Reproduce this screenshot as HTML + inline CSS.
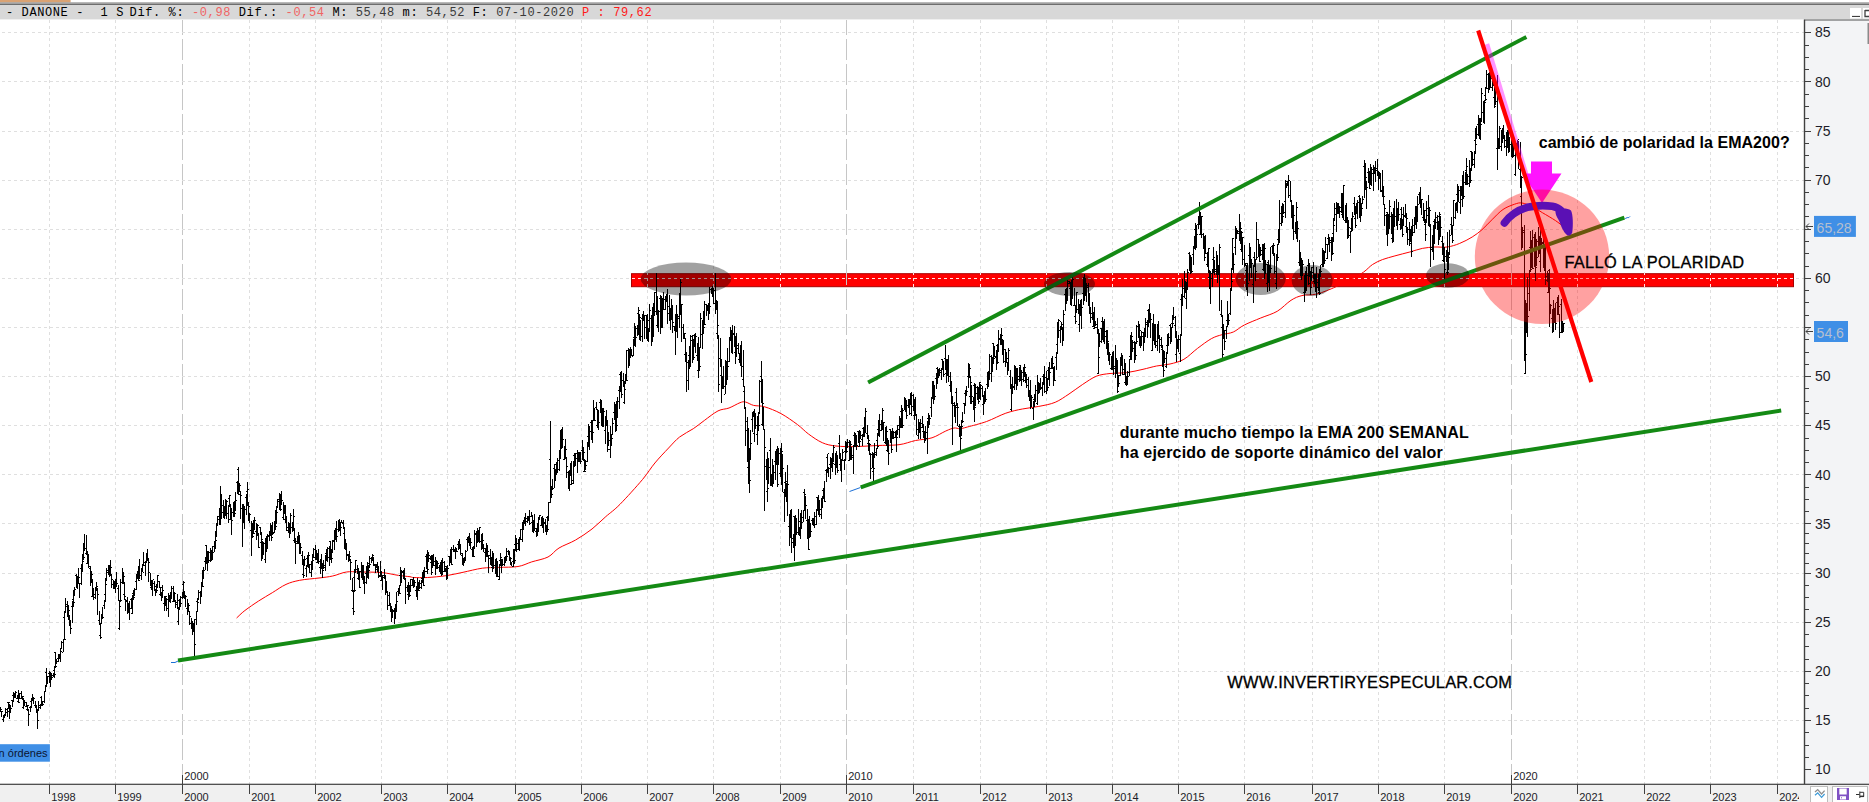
<!DOCTYPE html>
<html lang="es"><head><meta charset="utf-8"><title>DANONE</title>
<style>
html,body{margin:0;padding:0;background:#fff;}
body{width:1869px;height:802px;overflow:hidden;position:relative;font-family:"Liberation Sans",sans-serif;}
svg{position:absolute;left:0;top:0;display:block}
.sans{font-family:"Liberation Sans",sans-serif}
.mono{font-family:"Liberation Mono",monospace}
</style></head><body>
<svg width="1869" height="802" viewBox="0 0 1869 802">
<defs>
<clipPath id="chart"><rect x="0" y="19.3" width="1804" height="764.7"/></clipPath>
<clipPath id="rb"><rect x="631" y="273.2" width="1163" height="13.7"/></clipPath>
<clipPath id="c24"><rect x="1770" y="785" width="29" height="17"/></clipPath>
<linearGradient id="tg" x1="0" y1="0" x2="0" y2="1"><stop offset="0" stop-color="#b8b8b8"/><stop offset="1" stop-color="#707070"/></linearGradient>
</defs>
<rect width="1869" height="802" fill="#fff"/>
<!-- chart -->
<g clip-path="url(#chart)">
<rect x="631.5" y="273.7" width="1162" height="13" fill="#ff0000" stroke="#a80000" stroke-width="1"/>
<g stroke="#dfdfdf" stroke-width="1" shape-rendering="crispEdges">
<line x1="49.5" y1="20" x2="49.5" y2="784" stroke-dasharray="3 3"/>
<line x1="115.5" y1="20" x2="115.5" y2="784" stroke-dasharray="3 3"/>
<line x1="182.5" y1="20" x2="182.5" y2="775" stroke="#c6c6c6" stroke-dasharray="21 4" stroke-dashoffset="6"/>
<line x1="249.5" y1="20" x2="249.5" y2="784" stroke-dasharray="3 3"/>
<line x1="315.5" y1="20" x2="315.5" y2="784" stroke-dasharray="3 3"/>
<line x1="381.5" y1="20" x2="381.5" y2="784" stroke-dasharray="3 3"/>
<line x1="447.5" y1="20" x2="447.5" y2="784" stroke-dasharray="3 3"/>
<line x1="515.5" y1="20" x2="515.5" y2="784" stroke-dasharray="3 3"/>
<line x1="581.5" y1="20" x2="581.5" y2="784" stroke-dasharray="3 3"/>
<line x1="647.5" y1="20" x2="647.5" y2="784" stroke-dasharray="3 3"/>
<line x1="713.5" y1="20" x2="713.5" y2="784" stroke-dasharray="3 3"/>
<line x1="780.5" y1="20" x2="780.5" y2="784" stroke-dasharray="3 3"/>
<line x1="846.5" y1="20" x2="846.5" y2="775" stroke="#c6c6c6" stroke-dasharray="21 4" stroke-dashoffset="6"/>
<line x1="913.5" y1="20" x2="913.5" y2="784" stroke-dasharray="3 3"/>
<line x1="980.5" y1="20" x2="980.5" y2="784" stroke-dasharray="3 3"/>
<line x1="1046.5" y1="20" x2="1046.5" y2="784" stroke-dasharray="3 3"/>
<line x1="1112.5" y1="20" x2="1112.5" y2="784" stroke-dasharray="3 3"/>
<line x1="1178.5" y1="20" x2="1178.5" y2="784" stroke-dasharray="3 3"/>
<line x1="1244.5" y1="20" x2="1244.5" y2="784" stroke-dasharray="3 3"/>
<line x1="1312.5" y1="20" x2="1312.5" y2="784" stroke-dasharray="3 3"/>
<line x1="1378.5" y1="20" x2="1378.5" y2="784" stroke-dasharray="3 3"/>
<line x1="1444.5" y1="20" x2="1444.5" y2="784" stroke-dasharray="3 3"/>
<line x1="1511.5" y1="20" x2="1511.5" y2="775" stroke="#c6c6c6" stroke-dasharray="21 4" stroke-dashoffset="6"/>
<line x1="1577.5" y1="20" x2="1577.5" y2="784" stroke-dasharray="3 3"/>
<line x1="1644.5" y1="20" x2="1644.5" y2="784" stroke-dasharray="3 3"/>
<line x1="1710.5" y1="20" x2="1710.5" y2="784" stroke-dasharray="3 3"/>
<line x1="1777.5" y1="20" x2="1777.5" y2="784" stroke-dasharray="3 3"/>
<line x1="2" y1="720.5" x2="1804" y2="720.5" stroke-dasharray="3 3"/>
<line x1="2" y1="671.5" x2="1804" y2="671.5" stroke-dasharray="3 3"/>
<line x1="2" y1="622.5" x2="1804" y2="622.5" stroke-dasharray="3 3"/>
<line x1="2" y1="573.5" x2="1804" y2="573.5" stroke-dasharray="3 3"/>
<line x1="2" y1="523.5" x2="1804" y2="523.5" stroke-dasharray="3 3"/>
<line x1="2" y1="474.5" x2="1804" y2="474.5" stroke-dasharray="3 3"/>
<line x1="2" y1="425.5" x2="1804" y2="425.5" stroke-dasharray="3 3"/>
<line x1="2" y1="376.5" x2="1804" y2="376.5" stroke-dasharray="3 3"/>
<line x1="2" y1="327.5" x2="1804" y2="327.5" stroke-dasharray="3 3"/>
<line x1="2" y1="278.5" x2="1804" y2="278.5" stroke-dasharray="3 3"/>
<line x1="2" y1="229.5" x2="1804" y2="229.5" stroke-dasharray="3 3"/>
<line x1="2" y1="180.5" x2="1804" y2="180.5" stroke-dasharray="3 3"/>
<line x1="2" y1="131.5" x2="1804" y2="131.5" stroke-dasharray="3 3"/>
<line x1="2" y1="81.5" x2="1804" y2="81.5" stroke-dasharray="3 3"/>
<line x1="2" y1="32.5" x2="1804" y2="32.5" stroke-dasharray="3 3"/>
</g>
<g stroke="#ffe4e4" stroke-width="1" shape-rendering="crispEdges" clip-path="url(#rb)">
<line x1="49.5" y1="20" x2="49.5" y2="784" stroke-dasharray="3 3"/>
<line x1="115.5" y1="20" x2="115.5" y2="784" stroke-dasharray="3 3"/>
<line x1="182.5" y1="20" x2="182.5" y2="775" stroke="#c6c6c6" stroke-dasharray="21 4" stroke-dashoffset="6"/>
<line x1="249.5" y1="20" x2="249.5" y2="784" stroke-dasharray="3 3"/>
<line x1="315.5" y1="20" x2="315.5" y2="784" stroke-dasharray="3 3"/>
<line x1="381.5" y1="20" x2="381.5" y2="784" stroke-dasharray="3 3"/>
<line x1="447.5" y1="20" x2="447.5" y2="784" stroke-dasharray="3 3"/>
<line x1="515.5" y1="20" x2="515.5" y2="784" stroke-dasharray="3 3"/>
<line x1="581.5" y1="20" x2="581.5" y2="784" stroke-dasharray="3 3"/>
<line x1="647.5" y1="20" x2="647.5" y2="784" stroke-dasharray="3 3"/>
<line x1="713.5" y1="20" x2="713.5" y2="784" stroke-dasharray="3 3"/>
<line x1="780.5" y1="20" x2="780.5" y2="784" stroke-dasharray="3 3"/>
<line x1="846.5" y1="20" x2="846.5" y2="775" stroke="#c6c6c6" stroke-dasharray="21 4" stroke-dashoffset="6"/>
<line x1="913.5" y1="20" x2="913.5" y2="784" stroke-dasharray="3 3"/>
<line x1="980.5" y1="20" x2="980.5" y2="784" stroke-dasharray="3 3"/>
<line x1="1046.5" y1="20" x2="1046.5" y2="784" stroke-dasharray="3 3"/>
<line x1="1112.5" y1="20" x2="1112.5" y2="784" stroke-dasharray="3 3"/>
<line x1="1178.5" y1="20" x2="1178.5" y2="784" stroke-dasharray="3 3"/>
<line x1="1244.5" y1="20" x2="1244.5" y2="784" stroke-dasharray="3 3"/>
<line x1="1312.5" y1="20" x2="1312.5" y2="784" stroke-dasharray="3 3"/>
<line x1="1378.5" y1="20" x2="1378.5" y2="784" stroke-dasharray="3 3"/>
<line x1="1444.5" y1="20" x2="1444.5" y2="784" stroke-dasharray="3 3"/>
<line x1="1511.5" y1="20" x2="1511.5" y2="775" stroke="#c6c6c6" stroke-dasharray="21 4" stroke-dashoffset="6"/>
<line x1="1577.5" y1="20" x2="1577.5" y2="784" stroke-dasharray="3 3"/>
<line x1="1644.5" y1="20" x2="1644.5" y2="784" stroke-dasharray="3 3"/>
<line x1="1710.5" y1="20" x2="1710.5" y2="784" stroke-dasharray="3 3"/>
<line x1="1777.5" y1="20" x2="1777.5" y2="784" stroke-dasharray="3 3"/>
<line x1="2" y1="720.5" x2="1804" y2="720.5" stroke-dasharray="3 3"/>
<line x1="2" y1="671.5" x2="1804" y2="671.5" stroke-dasharray="3 3"/>
<line x1="2" y1="622.5" x2="1804" y2="622.5" stroke-dasharray="3 3"/>
<line x1="2" y1="573.5" x2="1804" y2="573.5" stroke-dasharray="3 3"/>
<line x1="2" y1="523.5" x2="1804" y2="523.5" stroke-dasharray="3 3"/>
<line x1="2" y1="474.5" x2="1804" y2="474.5" stroke-dasharray="3 3"/>
<line x1="2" y1="425.5" x2="1804" y2="425.5" stroke-dasharray="3 3"/>
<line x1="2" y1="376.5" x2="1804" y2="376.5" stroke-dasharray="3 3"/>
<line x1="2" y1="327.5" x2="1804" y2="327.5" stroke-dasharray="3 3"/>
<line x1="2" y1="278.5" x2="1804" y2="278.5" stroke-dasharray="3 3"/>
<line x1="2" y1="229.5" x2="1804" y2="229.5" stroke-dasharray="3 3"/>
<line x1="2" y1="180.5" x2="1804" y2="180.5" stroke-dasharray="3 3"/>
<line x1="2" y1="131.5" x2="1804" y2="131.5" stroke-dasharray="3 3"/>
<line x1="2" y1="81.5" x2="1804" y2="81.5" stroke-dasharray="3 3"/>
<line x1="2" y1="32.5" x2="1804" y2="32.5" stroke-dasharray="3 3"/>
</g>
<path d="M236.6 618.0C238.0 616.8 241.2 613.3 244.9 610.5C248.6 607.7 254.0 604.0 258.6 601.0C263.2 598.0 267.7 595.5 272.3 592.7C276.9 589.9 281.4 586.5 286.0 584.4C290.6 582.3 294.2 581.4 299.7 580.3C305.2 579.2 313.5 578.7 319.0 578.0C324.5 577.3 328.1 577.0 332.7 576.0C337.3 575.0 341.8 572.7 346.4 572.0C350.9 571.3 354.1 571.9 360.0 572.0C365.9 572.1 375.6 572.0 382.0 572.6C388.4 573.2 393.8 574.7 398.5 575.4C403.2 576.1 407.5 576.4 410.0 576.7C412.5 577.1 410.8 577.4 413.7 577.5C416.6 577.6 421.9 577.8 427.4 577.5C432.9 577.2 440.7 576.5 446.6 575.6C452.5 574.7 457.1 573.5 463.0 572.3C468.9 571.1 476.3 569.0 482.3 568.2C488.3 567.4 492.9 567.7 498.8 567.4C504.8 567.1 512.5 567.4 518.0 566.5C523.5 565.6 526.7 563.5 531.7 561.9C536.7 560.3 543.5 559.3 548.0 557.0C552.5 554.7 554.4 550.8 559.0 548.0C563.6 545.2 570.1 543.2 575.6 540.0C581.1 536.8 587.0 532.9 592.0 529.0C597.0 525.1 601.1 520.7 605.8 516.6C610.5 512.5 613.9 510.5 620.0 504.3C626.1 498.1 636.7 486.4 642.5 479.5C648.3 472.6 650.5 468.2 654.9 463.0C659.2 457.8 664.5 452.3 668.6 448.0C672.7 443.7 675.5 440.2 679.6 437.0C683.7 433.8 689.2 431.4 693.3 428.7C697.4 425.9 700.2 423.5 704.3 420.5C708.4 417.5 713.9 413.0 718.0 410.9C722.1 408.8 725.3 409.4 729.0 408.0C732.7 406.6 737.3 403.7 740.0 402.7C742.7 401.7 743.1 401.6 745.4 402.0C747.7 402.4 750.4 404.6 753.6 405.4C756.8 406.2 760.0 405.4 764.6 406.8C769.2 408.2 775.5 410.6 781.0 413.6C786.5 416.6 792.9 421.2 797.5 424.6C802.1 428.0 804.4 431.0 808.5 434.0C812.6 437.0 817.7 440.7 822.3 442.7C826.9 444.7 830.5 445.4 836.0 446.0C841.5 446.6 848.3 446.7 855.2 446.6C862.1 446.5 869.9 445.8 877.2 445.5C884.5 445.2 892.6 445.5 899.0 444.7C905.4 443.9 910.1 441.6 915.6 440.5C921.1 439.4 927.0 439.4 932.0 437.8C937.0 436.2 942.1 432.6 945.8 431.0C949.5 429.4 951.6 428.4 954.0 428.0C956.4 427.6 957.8 428.9 960.0 428.7C962.2 428.5 963.0 428.2 967.4 427.0C971.8 425.8 980.2 423.8 986.6 421.5C993.0 419.2 999.8 415.3 1005.8 413.2C1011.8 411.1 1016.8 410.1 1022.3 409.0C1027.8 407.9 1033.3 407.5 1038.8 406.4C1044.3 405.3 1050.2 404.4 1055.2 402.3C1060.2 400.2 1064.4 397.0 1069.0 394.0C1073.6 391.0 1078.1 387.4 1082.7 384.4C1087.3 381.4 1091.9 378.0 1096.4 376.2C1101.0 374.4 1105.0 374.1 1110.0 373.5C1115.0 372.9 1121.1 373.3 1126.6 372.6C1132.1 371.9 1138.0 370.4 1143.0 369.3C1148.0 368.2 1152.0 366.9 1156.5 366.0C1161.0 365.1 1165.4 365.1 1170.0 364.0C1174.6 362.9 1179.3 361.9 1183.9 359.3C1188.5 356.7 1193.0 351.7 1197.6 348.3C1202.2 344.9 1207.2 341.0 1211.3 338.7C1215.4 336.4 1218.6 335.7 1222.3 334.6C1226.0 333.5 1229.6 333.6 1233.3 332.0C1237.0 330.4 1239.7 327.3 1244.3 325.0C1248.9 322.7 1255.2 320.3 1260.7 318.0C1266.2 315.7 1272.2 314.2 1277.2 311.3C1282.2 308.4 1286.9 302.9 1291.0 300.3C1295.1 297.7 1297.8 296.6 1301.9 295.6C1306.0 294.6 1311.5 295.1 1315.6 294.3C1319.7 293.5 1323.2 292.0 1326.6 290.7C1330.0 289.4 1332.3 288.4 1336.2 286.6C1340.1 284.8 1345.4 282.4 1350.0 280.0C1354.6 277.6 1360.0 274.6 1363.7 272.0C1367.4 269.4 1369.3 266.7 1372.4 264.6C1375.5 262.5 1378.7 261.1 1382.4 259.6C1386.2 258.2 1390.3 257.2 1394.9 255.9C1399.5 254.6 1405.2 253.2 1409.8 252.0C1414.4 250.8 1418.1 249.2 1422.3 248.4C1426.5 247.6 1430.6 247.2 1434.8 247.0C1439.0 246.8 1443.0 247.6 1447.2 247.0C1451.4 246.4 1455.5 245.1 1459.7 243.4C1463.9 241.7 1468.5 239.3 1472.2 237.0C1475.9 234.7 1478.7 232.6 1482.0 229.7C1485.3 226.8 1488.5 223.1 1492.0 219.7C1495.5 216.3 1499.2 212.1 1503.0 209.5C1506.8 206.9 1511.4 205.3 1514.6 204.2C1517.8 203.1 1519.1 202.6 1522.0 203.0C1524.9 203.4 1528.6 204.9 1532.0 206.5C1535.4 208.1 1538.5 210.3 1542.4 212.7C1546.3 215.0 1552.1 218.3 1555.5 220.6C1558.9 222.9 1561.8 225.4 1563.0 226.3" fill="none" stroke="#ff0000" stroke-width="1"/>
<path d="M0.6 706.5V712.3M-0.6 710.2h1.2M0.6 709.3h1.2M1.9 711.2V717.2M0.7 716.4h1.2M1.9 711.5h1.2M3.2 715.7V721.7M2.0 719.7h1.2M3.2 720.7h1.2M4.4 714.5V718.0M3.2 715.3h1.2M4.4 714.6h1.2M5.7 708.4V716.0M4.5 711.7h1.2M5.7 709.3h1.2M7.0 707.6V717.3M5.8 712.1h1.2M7.0 714.5h1.2M8.3 702.0V708.8M7.1 702.6h1.2M8.3 702.8h1.2M9.5 704.1V718.6M8.3 711.0h1.2M9.5 706.6h1.2M10.8 705.1V712.7M9.6 706.8h1.2M10.8 708.4h1.2M12.1 699.7V706.8M10.9 700.6h1.2M12.1 700.2h1.2M13.4 691.5V702.2M12.2 695.4h1.2M13.4 696.5h1.2M14.7 692.9V698.0M13.5 697.7h1.2M14.7 695.7h1.2M15.9 691.0V698.1M14.7 691.5h1.2M15.9 692.6h1.2M17.2 694.6V699.4M16.0 698.2h1.2M17.2 697.3h1.2M18.5 690.0V703.0M17.3 701.3h1.2M18.5 702.5h1.2M19.8 692.8V699.4M18.6 698.4h1.2M19.8 693.5h1.2M21.0 691.2V699.1M19.8 698.7h1.2M21.0 695.4h1.2M22.3 695.5V700.2M21.1 696.6h1.2M22.3 696.3h1.2M23.6 698.2V709.0M22.4 707.5h1.2M23.6 700.5h1.2M24.9 701.2V705.5M23.7 701.5h1.2M24.9 702.3h1.2M26.2 701.6V707.2M25.0 706.8h1.2M26.2 704.1h1.2M27.4 704.6V711.3M26.2 709.5h1.2M27.4 705.1h1.2M28.7 708.9V725.8M27.5 716.6h1.2M28.7 714.3h1.2M30.0 705.7V711.8M28.8 707.0h1.2M30.0 709.7h1.2M31.3 698.3V707.9M30.1 701.7h1.2M31.3 699.4h1.2M32.5 694.0V700.2M31.3 700.1h1.2M32.5 697.0h1.2M33.8 697.9V704.4M32.6 699.1h1.2M33.8 698.0h1.2M35.1 701.3V708.0M33.9 705.7h1.2M35.1 704.7h1.2M36.4 705.2V713.4M35.2 705.4h1.2M36.4 709.1h1.2M37.7 709.9V728.8M36.5 723.9h1.2M37.7 720.1h1.2M38.9 700.7V711.0M37.7 703.1h1.2M38.9 705.8h1.2M40.2 703.8V709.1M39.0 707.0h1.2M40.2 707.2h1.2M41.5 695.7V706.3M40.3 697.3h1.2M41.5 704.2h1.2M42.8 700.7V705.2M41.6 705.0h1.2M42.8 704.1h1.2M44.1 690.8V702.9M42.9 701.1h1.2M44.1 695.2h1.2M45.3 684.8V692.2M44.1 691.5h1.2M45.3 686.2h1.2M46.6 668.4V686.2M45.4 672.4h1.2M46.6 679.0h1.2M47.9 675.5V684.2M46.7 683.3h1.2M47.9 676.2h1.2M49.2 671.0V683.3M48.0 673.7h1.2M49.2 671.4h1.2M50.4 671.5V686.8M49.2 678.2h1.2M50.4 673.6h1.2M51.7 672.7V679.7M50.5 674.0h1.2M51.7 677.9h1.2M53.0 672.6V677.0M51.8 675.2h1.2M53.0 676.7h1.2M54.3 666.1V678.0M53.1 670.9h1.2M54.3 674.2h1.2M55.6 652.0V667.7M54.4 652.2h1.2M55.6 666.9h1.2M56.8 659.1V664.0M55.6 660.2h1.2M56.8 661.4h1.2M58.1 654.4V662.1M56.9 658.4h1.2M58.1 661.7h1.2M59.4 653.6V658.3M58.2 655.9h1.2M59.4 658.2h1.2M60.7 648.2V662.3M59.5 657.0h1.2M60.7 651.3h1.2M61.9 641.2V649.2M60.7 647.9h1.2M61.9 642.9h1.2M63.2 639.1V652.0M62.0 652.0h1.2M63.2 645.0h1.2M64.5 611.1V640.4M63.3 617.7h1.2M64.5 639.3h1.2M65.8 598.0V613.4M64.6 603.0h1.2M65.8 604.3h1.2M67.1 601.2V616.7M65.9 606.5h1.2M67.1 611.6h1.2M68.3 604.5V619.9M67.1 604.9h1.2M68.3 610.2h1.2M69.6 615.4V626.0M68.4 617.1h1.2M69.6 624.2h1.2M70.9 620.5V634.0M69.7 620.5h1.2M70.9 628.7h1.2M72.2 600.8V622.9M71.0 606.5h1.2M72.2 610.8h1.2M73.4 589.8V607.1M72.2 599.5h1.2M73.4 602.1h1.2M74.7 586.6V596.4M73.5 588.0h1.2M74.7 589.0h1.2M76.0 573.6V588.1M74.8 575.4h1.2M76.0 587.5h1.2M77.3 577.0V589.0M76.1 578.8h1.2M77.3 578.7h1.2M78.6 567.6V583.9M77.4 576.1h1.2M78.6 577.0h1.2M79.8 582.5V597.8M78.6 596.1h1.2M79.8 583.4h1.2M81.1 563.9V584.7M79.9 568.8h1.2M81.1 567.4h1.2M82.4 553.6V571.8M81.2 564.2h1.2M82.4 561.8h1.2M83.7 543.0V559.6M82.5 549.8h1.2M83.7 557.8h1.2M84.9 533.7V550.6M83.7 544.9h1.2M84.9 548.2h1.2M86.2 535.0V554.5M85.0 553.7h1.2M86.2 540.2h1.2M87.5 550.7V564.2M86.3 563.5h1.2M87.5 556.2h1.2M88.8 553.7V568.0M87.6 554.4h1.2M88.8 566.8h1.2M90.1 565.9V586.1M88.9 568.0h1.2M90.1 566.2h1.2M91.3 571.1V582.9M90.1 574.5h1.2M91.3 574.5h1.2M92.6 578.6V597.1M91.4 596.5h1.2M92.6 594.7h1.2M93.9 588.0V600.2M92.7 593.1h1.2M93.9 594.5h1.2M95.2 588.2V599.0M94.0 597.4h1.2M95.2 596.9h1.2M96.5 582.0V590.5M95.2 587.6h1.2M96.5 586.4h1.2M97.7 588.3V614.5M96.5 591.4h1.2M97.7 594.7h1.2M99.0 611.4V624.5M97.8 620.0h1.2M99.0 619.1h1.2M100.3 622.7V639.0M99.1 635.8h1.2M100.3 637.4h1.2M101.6 613.6V623.9M100.4 623.5h1.2M101.6 615.6h1.2M102.8 606.7V618.9M101.6 607.6h1.2M102.8 617.6h1.2M104.1 599.7V609.4M102.9 605.3h1.2M104.1 601.5h1.2M105.4 578.1V602.0M104.2 594.6h1.2M105.4 584.2h1.2M106.7 568.2V580.5M105.5 571.1h1.2M106.7 572.7h1.2M108.0 565.8V575.3M106.8 570.8h1.2M108.0 572.2h1.2M109.2 564.9V577.4M108.0 565.8h1.2M109.2 574.1h1.2M110.5 559.7V575.5M109.3 569.5h1.2M110.5 567.1h1.2M111.8 574.0V587.6M110.6 583.1h1.2M111.8 584.8h1.2M113.1 579.8V589.4M111.9 579.9h1.2M113.1 584.3h1.2M114.3 580.5V588.7M113.1 586.1h1.2M114.3 586.3h1.2M115.6 578.7V593.4M114.4 588.2h1.2M115.6 581.3h1.2M116.9 571.8V587.1M115.7 586.5h1.2M116.9 583.8h1.2M118.2 585.2V601.3M117.0 588.9h1.2M118.2 592.1h1.2M119.5 599.8V630.0M118.3 628.7h1.2M119.5 606.0h1.2M120.7 579.4V601.6M119.5 588.5h1.2M120.7 600.7h1.2M122.0 568.0V584.1M120.8 582.5h1.2M122.0 571.7h1.2M123.3 571.9V584.4M122.1 581.1h1.2M123.3 576.4h1.2M124.6 582.0V600.2M123.4 594.1h1.2M124.6 596.0h1.2M125.8 599.0V610.7M124.6 600.5h1.2M125.8 601.6h1.2M127.1 597.2V614.3M125.9 600.9h1.2M127.1 601.7h1.2M128.4 602.6V612.6M127.2 603.0h1.2M128.4 604.0h1.2M129.7 600.8V619.5M128.5 608.4h1.2M129.7 608.7h1.2M131.0 598.4V608.6M129.8 599.2h1.2M131.0 604.4h1.2M132.2 595.1V614.1M131.0 613.0h1.2M132.2 606.1h1.2M133.5 589.8V600.1M132.3 593.4h1.2M133.5 597.0h1.2M134.8 587.9V596.0M133.6 591.4h1.2M134.8 589.3h1.2M136.1 574.2V589.7M134.9 581.6h1.2M136.1 574.5h1.2M137.3 570.6V578.6M136.1 576.0h1.2M137.3 571.9h1.2M138.6 566.3V580.9M137.4 571.7h1.2M138.6 580.3h1.2M139.9 558.8V578.9M138.7 574.2h1.2M139.9 575.6h1.2M141.2 567.7V580.0M140.0 575.6h1.2M141.2 575.5h1.2M142.5 564.2V572.3M141.3 569.9h1.2M142.5 572.0h1.2M143.7 551.8V566.2M142.5 554.6h1.2M143.7 562.8h1.2M145.0 561.0V575.7M143.8 565.4h1.2M145.0 564.8h1.2M146.3 552.7V562.8M145.1 561.0h1.2M146.3 558.8h1.2M147.6 548.8V560.6M146.4 558.9h1.2M147.6 559.2h1.2M148.8 558.2V581.8M147.6 572.1h1.2M148.8 562.9h1.2M150.1 572.6V585.8M148.9 572.8h1.2M150.1 579.7h1.2M151.4 579.6V589.9M150.2 587.0h1.2M151.4 582.4h1.2M152.7 579.6V596.1M151.5 580.8h1.2M152.7 579.7h1.2M154.0 581.3V591.3M152.8 583.0h1.2M154.0 588.2h1.2M155.2 588.7V595.5M154.0 588.8h1.2M155.2 590.3h1.2M156.5 584.4V593.2M155.3 586.7h1.2M156.5 590.6h1.2M157.8 575.4V588.0M156.6 587.9h1.2M157.8 575.6h1.2M159.1 580.6V588.3M157.9 581.5h1.2M159.1 587.8h1.2M160.3 586.7V594.7M159.2 594.5h1.2M160.3 587.9h1.2M161.6 592.1V601.1M160.4 595.1h1.2M161.6 596.8h1.2M162.9 585.1V598.0M161.7 589.2h1.2M162.9 590.5h1.2M164.2 595.6V611.1M163.0 603.0h1.2M164.2 599.6h1.2M165.5 595.7V605.9M164.3 596.3h1.2M165.5 596.6h1.2M166.7 598.1V610.8M165.5 600.1h1.2M166.7 599.2h1.2M168.0 592.7V617.4M166.8 608.1h1.2M168.0 609.9h1.2M169.3 595.4V601.7M168.1 597.1h1.2M169.3 600.4h1.2M170.6 592.3V603.3M169.4 600.3h1.2M170.6 596.0h1.2M171.9 586.3V598.5M170.7 592.3h1.2M171.9 588.6h1.2M173.1 586.0V602.4M171.9 601.2h1.2M173.1 595.2h1.2M174.4 592.3V601.7M173.2 592.8h1.2M174.4 593.7h1.2M175.7 599.5V608.0M174.5 605.4h1.2M175.7 602.7h1.2M177.0 593.6V609.4M175.8 604.9h1.2M177.0 597.2h1.2M178.2 607.3V625.3M177.0 621.7h1.2M178.2 621.8h1.2M179.5 599.3V609.8M178.3 600.3h1.2M179.5 605.5h1.2M180.8 595.7V606.7M179.6 597.8h1.2M180.8 603.5h1.2M182.1 591.5V598.5M180.9 597.2h1.2M182.1 597.1h1.2M183.4 581.0V597.6M182.2 584.8h1.2M183.4 582.5h1.2M184.6 591.1V599.2M183.4 596.5h1.2M184.6 595.7h1.2M185.9 594.5V606.5M184.7 596.1h1.2M185.9 596.8h1.2M187.2 599.1V615.2M186.0 608.5h1.2M187.2 600.9h1.2M188.5 603.3V611.9M187.3 608.7h1.2M188.5 605.3h1.2M189.7 610.8V625.3M188.5 614.5h1.2M189.7 616.9h1.2M191.0 618.0V628.6M189.8 623.7h1.2M191.0 625.7h1.2M192.3 620.7V635.2M191.1 621.1h1.2M192.3 631.2h1.2M193.6 622.6V630.7M192.4 624.4h1.2M193.6 625.0h1.2M194.9 619.0V656.0M193.7 642.7h1.2M194.9 644.6h1.2M196.1 610.7V625.2M194.9 619.6h1.2M196.1 623.8h1.2M197.4 598.3V612.0M196.2 601.1h1.2M197.4 602.6h1.2M198.7 590.2V599.8M197.5 596.5h1.2M198.7 592.7h1.2M200.0 590.6V603.6M198.8 592.6h1.2M200.0 593.5h1.2M201.2 582.7V597.1M200.0 593.8h1.2M201.2 594.6h1.2M202.5 570.2V587.4M201.3 582.6h1.2M202.5 586.7h1.2M203.8 566.9V579.4M202.6 576.9h1.2M203.8 570.8h1.2M205.1 557.4V570.3M203.9 561.5h1.2M205.1 566.7h1.2M206.4 544.6V563.8M205.2 545.7h1.2M206.4 556.3h1.2M207.6 550.6V571.0M206.4 552.4h1.2M207.6 551.6h1.2M208.9 550.9V562.6M207.7 556.9h1.2M208.9 552.7h1.2M210.2 548.0V561.8M209.0 560.8h1.2M210.2 560.1h1.2M211.5 549.9V561.3M210.3 555.2h1.2M211.5 552.2h1.2M212.7 545.8V559.8M211.5 547.5h1.2M212.7 552.9h1.2M214.0 541.2V552.1M212.8 546.9h1.2M214.0 545.2h1.2M215.3 531.2V548.8M214.1 543.8h1.2M215.3 540.5h1.2M216.6 522.6V536.6M215.4 533.5h1.2M216.6 524.1h1.2M217.9 515.5V526.3M216.7 516.2h1.2M217.9 519.7h1.2M219.1 508.2V524.8M217.9 516.2h1.2M219.1 512.4h1.2M220.4 485.7V524.7M219.2 511.8h1.2M220.4 494.4h1.2M221.7 493.6V518.5M220.5 501.5h1.2M221.7 505.5h1.2M223.0 500.1V518.1M221.8 512.9h1.2M223.0 514.0h1.2M224.2 506.1V519.3M223.1 511.0h1.2M224.2 512.0h1.2M225.5 498.5V516.1M224.3 514.9h1.2M225.5 515.0h1.2M226.8 499.6V518.5M225.6 511.3h1.2M226.8 501.6h1.2M228.1 505.4V523.0M226.9 513.4h1.2M228.1 516.6h1.2M229.4 495.2V506.5M228.2 498.4h1.2M229.4 495.6h1.2M230.6 504.1V519.8M229.4 519.5h1.2M230.6 518.4h1.2M231.9 507.6V535.0M230.7 511.1h1.2M231.9 520.4h1.2M233.2 503.1V517.4M232.0 512.0h1.2M233.2 507.4h1.2M234.5 501.0V517.1M233.3 502.1h1.2M234.5 513.1h1.2M235.8 492.3V510.7M234.6 506.5h1.2M235.8 500.4h1.2M237.0 480.8V494.0M235.8 482.0h1.2M237.0 486.0h1.2M238.3 467.0V495.2M237.1 469.7h1.2M238.3 494.2h1.2M239.6 482.5V492.4M238.4 483.0h1.2M239.6 485.4h1.2M240.9 491.4V518.8M239.7 512.4h1.2M240.9 495.1h1.2M242.1 504.0V547.4M240.9 508.6h1.2M242.1 507.1h1.2M243.4 503.7V522.9M242.2 506.8h1.2M243.4 513.9h1.2M244.7 505.7V528.5M243.5 524.7h1.2M244.7 509.5h1.2M246.0 494.0V514.8M244.8 497.6h1.2M246.0 509.9h1.2M247.3 481.5V506.0M246.1 491.9h1.2M247.3 489.8h1.2M248.5 501.8V521.1M247.3 504.2h1.2M248.5 506.5h1.2M249.8 513.4V522.5M248.6 522.3h1.2M249.8 514.5h1.2M251.1 521.1V555.6M249.9 530.1h1.2M251.1 546.7h1.2M252.4 522.6V537.5M251.2 535.9h1.2M252.4 536.1h1.2M253.6 520.2V534.3M252.4 526.9h1.2M253.6 533.7h1.2M254.9 516.5V530.3M253.7 524.8h1.2M254.9 520.5h1.2M256.2 523.3V539.8M255.0 531.0h1.2M256.2 535.1h1.2M257.5 523.8V535.5M256.3 532.4h1.2M257.5 525.3h1.2M258.8 533.4V547.9M257.6 536.2h1.2M258.8 547.3h1.2M260.0 526.5V534.7M258.8 527.4h1.2M260.0 533.2h1.2M261.3 532.2V561.0M260.1 542.0h1.2M261.3 539.4h1.2M262.6 540.6V558.9M261.4 545.3h1.2M262.6 549.2h1.2M263.9 541.7V554.4M262.7 554.3h1.2M263.9 543.6h1.2M265.1 539.2V562.5M263.9 559.1h1.2M265.1 546.7h1.2M266.4 535.5V551.5M265.2 538.2h1.2M266.4 547.4h1.2M267.7 533.9V548.9M266.5 539.1h1.2M267.7 536.8h1.2M269.0 531.3V541.0M267.8 535.4h1.2M269.0 539.3h1.2M270.3 523.0V535.5M269.1 533.8h1.2M270.3 530.2h1.2M271.5 525.6V540.7M270.3 525.8h1.2M271.5 537.1h1.2M272.8 522.0V535.1M271.6 529.9h1.2M272.8 533.7h1.2M274.1 520.9V532.6M272.9 532.0h1.2M274.1 524.7h1.2M275.4 511.2V529.8M274.2 527.0h1.2M275.4 526.5h1.2M276.6 505.7V524.0M275.4 510.5h1.2M276.6 512.4h1.2M277.9 498.8V507.5M276.7 502.1h1.2M277.9 501.9h1.2M279.2 492.7V509.6M278.0 499.1h1.2M279.2 494.5h1.2M280.5 493.7V511.2M279.3 497.7h1.2M280.5 509.6h1.2M281.8 490.6V505.4M280.6 496.7h1.2M281.8 500.0h1.2M283.0 501.8V519.7M281.8 517.7h1.2M283.0 515.4h1.2M284.3 504.7V514.2M283.1 507.1h1.2M284.3 513.4h1.2M285.6 505.0V523.4M284.4 519.8h1.2M285.6 523.2h1.2M286.9 515.6V531.0M285.7 526.8h1.2M286.9 527.2h1.2M288.2 522.0V532.7M287.0 530.7h1.2M288.2 524.7h1.2M289.4 522.6V537.8M288.2 532.6h1.2M289.4 528.4h1.2M290.7 512.7V534.0M289.5 530.6h1.2M290.7 515.6h1.2M292.0 521.8V531.5M290.8 527.0h1.2M292.0 525.0h1.2M293.3 509.0V530.6M292.1 526.7h1.2M293.3 516.5h1.2M294.5 527.5V543.1M293.3 540.7h1.2M294.5 540.8h1.2M295.8 538.2V563.9M294.6 560.8h1.2M295.8 541.8h1.2M297.1 535.5V543.5M295.9 543.0h1.2M297.1 541.5h1.2M298.4 532.3V543.6M297.2 539.9h1.2M298.4 539.7h1.2M299.7 535.0V554.1M298.5 536.0h1.2M299.7 551.7h1.2M300.9 542.8V553.6M299.7 548.7h1.2M300.9 547.7h1.2M302.2 550.8V564.9M301.0 555.6h1.2M302.2 561.8h1.2M303.5 558.5V578.4M302.3 574.1h1.2M303.5 575.8h1.2M304.8 555.9V566.2M303.6 558.1h1.2M304.8 559.4h1.2M306.0 564.9V577.2M304.8 568.0h1.2M306.0 566.1h1.2M307.3 554.7V566.5M306.1 558.6h1.2M307.3 555.0h1.2M308.6 552.2V567.8M307.4 564.7h1.2M308.6 555.8h1.2M309.9 564.2V573.0M308.7 564.8h1.2M309.9 564.8h1.2M311.2 560.5V576.7M310.0 572.5h1.2M311.2 563.7h1.2M312.4 553.9V569.6M311.2 561.1h1.2M312.4 560.2h1.2M313.7 548.1V558.3M312.5 556.3h1.2M313.7 557.9h1.2M315.0 544.6V560.0M313.8 549.4h1.2M315.0 554.3h1.2M316.3 549.9V560.3M315.1 559.2h1.2M316.3 554.8h1.2M317.5 553.4V563.2M316.3 562.2h1.2M317.5 560.6h1.2M318.8 548.5V563.6M317.6 553.2h1.2M318.8 561.7h1.2M320.1 559.0V573.8M318.9 567.5h1.2M320.1 560.5h1.2M321.4 553.7V569.0M320.2 562.7h1.2M321.4 566.4h1.2M322.7 563.1V577.6M321.5 570.6h1.2M322.7 570.1h1.2M323.9 559.6V568.8M322.7 563.4h1.2M323.9 567.7h1.2M325.2 555.4V570.6M324.0 565.5h1.2M325.2 558.5h1.2M326.5 548.5V561.0M325.3 553.0h1.2M326.5 553.0h1.2M327.8 546.7V562.2M326.6 561.6h1.2M327.8 557.5h1.2M329.0 546.4V566.3M327.8 548.9h1.2M329.0 564.6h1.2M330.3 540.7V560.0M329.1 541.4h1.2M330.3 552.1h1.2M331.6 549.3V562.7M330.4 555.1h1.2M331.6 558.9h1.2M332.9 540.2V553.1M331.7 545.8h1.2M332.9 541.4h1.2M334.2 529.8V549.6M333.0 540.1h1.2M334.2 546.0h1.2M335.4 528.3V539.8M334.2 537.3h1.2M335.4 532.4h1.2M336.7 520.6V541.8M335.5 525.3h1.2M336.7 536.4h1.2M338.0 519.6V531.7M336.8 529.3h1.2M338.0 522.3h1.2M339.3 518.6V531.0M338.1 529.5h1.2M339.3 530.9h1.2M340.5 521.5V536.4M339.3 528.0h1.2M340.5 527.2h1.2M341.8 520.0V523.3M340.6 522.3h1.2M341.8 523.0h1.2M343.1 520.4V528.6M341.9 522.1h1.2M343.1 522.9h1.2M344.4 526.6V548.9M343.2 533.9h1.2M344.4 542.9h1.2M345.7 539.0V549.8M344.5 541.0h1.2M345.7 544.9h1.2M346.9 542.7V560.0M345.7 551.3h1.2M346.9 554.2h1.2M348.2 553.9V562.2M347.0 555.1h1.2M348.2 561.9h1.2M349.5 550.8V560.7M348.3 560.7h1.2M349.5 556.3h1.2M350.8 558.6V580.2M349.6 575.8h1.2M350.8 562.6h1.2M352.1 577.8V592.0M350.9 590.7h1.2M352.1 585.6h1.2M353.3 589.6V614.6M352.1 608.6h1.2M353.3 611.3h1.2M354.6 568.6V591.8M353.4 577.0h1.2M354.6 590.0h1.2M355.9 559.7V572.7M354.7 562.4h1.2M355.9 560.0h1.2M357.2 565.1V573.6M356.0 569.3h1.2M357.2 572.7h1.2M358.4 568.0V579.6M357.2 578.5h1.2M358.4 579.1h1.2M359.7 571.4V588.1M358.5 579.9h1.2M359.7 587.0h1.2M361.0 561.6V578.3M359.8 571.0h1.2M361.0 564.0h1.2M362.3 565.4V580.0M361.1 574.6h1.2M362.3 577.1h1.2M363.6 564.5V584.0M362.4 572.7h1.2M363.6 576.2h1.2M364.8 577.4V594.0M363.6 581.7h1.2M364.8 582.0h1.2M366.1 566.0V583.8M364.9 573.4h1.2M366.1 575.1h1.2M367.4 561.9V577.7M366.2 569.3h1.2M367.4 563.4h1.2M368.7 565.5V578.9M367.5 565.5h1.2M368.7 570.0h1.2M369.9 555.5V567.6M368.7 564.2h1.2M369.9 564.5h1.2M371.2 556.6V563.2M370.0 558.2h1.2M371.2 558.3h1.2M372.5 554.3V561.1M371.3 557.8h1.2M372.5 555.5h1.2M373.8 557.0V565.5M372.6 562.1h1.2M373.8 564.6h1.2M375.1 564.1V572.9M373.9 565.9h1.2M375.1 569.3h1.2M376.3 564.4V567.9M375.1 566.9h1.2M376.3 567.0h1.2M377.6 562.1V571.9M376.4 569.1h1.2M377.6 569.0h1.2M378.9 566.0V578.0M377.7 569.3h1.2M378.9 576.0h1.2M380.2 561.0V576.5M379.0 575.3h1.2M380.2 561.8h1.2M381.4 571.4V581.2M380.2 580.6h1.2M381.4 575.7h1.2M382.7 574.8V590.2M381.5 576.1h1.2M382.7 575.9h1.2M384.0 569.1V579.3M382.8 577.2h1.2M384.0 576.0h1.2M385.3 574.5V595.2M384.1 577.5h1.2M385.3 584.1h1.2M386.6 581.1V592.7M385.4 588.5h1.2M386.6 592.7h1.2M387.8 591.3V609.8M386.6 597.5h1.2M387.8 605.5h1.2M389.1 592.4V606.2M387.9 595.8h1.2M389.1 595.1h1.2M390.4 603.3V611.7M389.2 604.6h1.2M390.4 606.7h1.2M391.7 606.5V622.0M390.5 616.1h1.2M391.7 611.2h1.2M392.9 609.1V618.3M391.7 610.6h1.2M392.9 611.1h1.2M394.2 608.7V624.0M393.0 610.0h1.2M394.2 611.6h1.2M395.5 603.8V618.7M394.3 608.5h1.2M395.5 611.3h1.2M396.8 592.2V610.6M395.6 595.6h1.2M396.8 601.0h1.2M398.1 588.3V595.3M396.9 591.4h1.2M398.1 595.2h1.2M399.3 584.6V593.6M398.1 589.0h1.2M399.3 593.1h1.2M400.6 566.6V585.7M399.4 575.6h1.2M400.6 570.4h1.2M401.9 570.2V583.1M400.7 577.8h1.2M401.9 572.0h1.2M403.2 570.1V578.9M402.0 571.6h1.2M403.2 570.7h1.2M404.4 567.9V580.3M403.2 576.6h1.2M404.4 579.9h1.2M405.7 578.2V603.6M404.5 588.5h1.2M405.7 587.2h1.2M407.0 584.7V592.0M405.8 587.8h1.2M407.0 587.3h1.2M408.3 582.1V599.5M407.1 594.1h1.2M408.3 589.0h1.2M409.6 585.3V596.5M408.4 587.0h1.2M409.6 595.0h1.2M410.8 579.4V591.9M409.6 586.5h1.2M410.8 579.5h1.2M412.1 578.7V586.4M410.9 585.3h1.2M412.1 584.3h1.2M413.4 577.0V588.2M412.2 581.0h1.2M413.4 584.1h1.2M414.7 579.9V586.9M413.5 586.4h1.2M414.7 582.7h1.2M416.0 585.6V596.8M414.8 590.4h1.2M416.0 588.9h1.2M417.2 578.3V600.3M416.0 590.5h1.2M417.2 592.9h1.2M418.5 581.7V590.8M417.3 588.4h1.2M418.5 590.3h1.2M419.8 580.1V588.8M418.6 581.3h1.2M419.8 583.2h1.2M421.1 579.8V588.6M419.9 587.3h1.2M421.1 586.7h1.2M422.3 572.2V582.7M421.1 578.3h1.2M422.3 579.3h1.2M423.6 569.5V586.4M422.4 575.2h1.2M423.6 585.5h1.2M424.9 566.9V578.1M423.7 573.1h1.2M424.9 571.4h1.2M426.2 553.9V568.7M425.0 556.6h1.2M426.2 555.6h1.2M427.5 550.3V573.9M426.3 571.5h1.2M427.5 569.2h1.2M428.7 552.3V561.9M427.5 552.6h1.2M428.7 555.4h1.2M430.0 556.3V560.0M428.8 558.1h1.2M430.0 558.1h1.2M431.3 554.6V574.8M430.1 562.0h1.2M431.3 572.7h1.2M432.6 555.0V567.8M431.4 559.5h1.2M432.6 561.8h1.2M433.8 553.6V565.8M432.6 564.9h1.2M433.8 561.4h1.2M435.1 557.4V574.5M433.9 565.5h1.2M435.1 563.1h1.2M436.4 560.1V568.6M435.2 563.4h1.2M436.4 565.2h1.2M437.7 561.4V568.6M436.5 567.0h1.2M437.7 563.2h1.2M439.0 564.6V572.2M437.8 567.4h1.2M439.0 567.5h1.2M440.2 562.2V574.0M439.0 566.5h1.2M440.2 572.9h1.2M441.5 559.6V575.6M440.3 568.2h1.2M441.5 564.0h1.2M442.8 557.8V574.5M441.6 563.4h1.2M442.8 571.5h1.2M444.1 560.6V572.1M442.9 562.4h1.2M444.1 568.5h1.2M445.3 567.6V572.2M444.1 567.7h1.2M445.3 568.5h1.2M446.6 566.1V579.7M445.4 566.9h1.2M446.6 577.0h1.2M447.9 565.0V579.1M446.7 567.1h1.2M447.9 568.2h1.2M449.2 556.3V566.1M448.0 556.9h1.2M449.2 558.9h1.2M450.5 548.6V562.8M449.3 559.0h1.2M450.5 558.8h1.2M451.7 546.5V565.0M450.5 563.3h1.2M451.7 564.0h1.2M453.0 545.4V552.0M451.8 549.0h1.2M453.0 551.5h1.2M454.3 548.7V552.1M453.1 549.0h1.2M454.3 551.9h1.2M455.6 546.5V559.0M454.4 551.9h1.2M455.6 548.9h1.2M456.8 547.9V552.2M455.6 551.1h1.2M456.8 551.6h1.2M458.1 541.3V550.2M456.9 544.8h1.2M458.1 542.2h1.2M459.4 538.5V549.3M458.2 547.9h1.2M459.4 546.6h1.2M460.7 543.7V555.4M459.5 550.6h1.2M460.7 555.1h1.2M462.0 553.2V564.8M460.8 553.7h1.2M462.0 553.9h1.2M463.2 558.7V566.0M462.0 559.6h1.2M463.2 558.8h1.2M464.5 557.1V563.1M463.3 561.3h1.2M464.5 560.9h1.2M465.8 549.8V560.2M464.6 551.0h1.2M465.8 551.5h1.2M467.1 537.1V551.2M465.9 539.7h1.2M467.1 545.7h1.2M468.3 536.2V542.8M467.1 540.6h1.2M468.3 542.6h1.2M469.6 533.0V546.4M468.4 537.8h1.2M469.6 546.1h1.2M470.9 537.8V548.5M469.7 542.4h1.2M470.9 542.0h1.2M472.2 546.6V557.0M471.0 549.3h1.2M472.2 549.0h1.2M473.5 546.0V556.8M472.3 556.5h1.2M473.5 556.7h1.2M474.7 530.4V548.5M473.5 543.2h1.2M474.7 533.6h1.2M476.0 531.2V546.5M474.8 534.0h1.2M476.0 533.6h1.2M477.3 528.4V543.1M476.1 533.6h1.2M477.3 539.3h1.2M478.6 529.8V542.3M477.4 530.5h1.2M478.6 536.4h1.2M479.9 527.0V543.0M478.7 537.9h1.2M479.9 527.5h1.2M481.1 534.3V550.4M479.9 541.4h1.2M481.1 547.0h1.2M482.4 533.1V548.7M481.2 542.1h1.2M482.4 540.1h1.2M483.7 543.7V551.7M482.5 550.8h1.2M483.7 548.5h1.2M485.0 547.6V561.9M483.8 552.4h1.2M485.0 553.3h1.2M486.2 543.0V556.3M485.0 555.5h1.2M486.2 554.4h1.2M487.5 544.6V557.4M486.3 556.3h1.2M487.5 551.8h1.2M488.8 555.4V572.8M487.6 557.9h1.2M488.8 558.4h1.2M490.1 549.2V564.6M488.9 555.1h1.2M490.1 559.8h1.2M491.4 556.7V565.5M490.2 556.7h1.2M491.4 563.7h1.2M492.6 551.4V571.5M491.4 567.2h1.2M492.6 561.8h1.2M493.9 553.3V568.5M492.7 553.4h1.2M493.9 565.4h1.2M495.2 559.3V574.0M494.0 565.4h1.2M495.2 569.2h1.2M496.5 557.5V576.6M495.3 568.4h1.2M496.5 571.4h1.2M497.7 561.3V576.7M496.5 567.6h1.2M497.7 576.1h1.2M499.0 564.0V579.7M497.8 579.0h1.2M499.0 578.6h1.2M500.3 552.8V565.9M499.1 560.9h1.2M500.3 557.0h1.2M501.6 558.5V572.8M500.4 563.9h1.2M501.6 562.4h1.2M502.9 558.8V566.1M501.7 565.4h1.2M502.9 564.6h1.2M504.1 557.2V566.2M502.9 564.3h1.2M504.1 564.6h1.2M505.4 555.6V562.6M504.2 562.5h1.2M505.4 560.4h1.2M506.7 548.0V559.5M505.5 551.7h1.2M506.7 556.7h1.2M508.0 550.2V555.4M506.8 551.6h1.2M508.0 553.4h1.2M509.2 550.5V559.7M508.0 552.0h1.2M509.2 558.4h1.2M510.5 556.8V564.6M509.3 560.6h1.2M510.5 558.9h1.2M511.8 561.5V565.7M510.6 565.4h1.2M511.8 561.9h1.2M513.1 548.9V567.4M511.9 566.1h1.2M513.1 562.9h1.2M514.4 548.9V563.8M513.2 551.1h1.2M514.4 560.2h1.2M515.6 535.0V550.8M514.4 544.1h1.2M515.6 549.4h1.2M516.9 537.8V551.5M515.7 545.9h1.2M516.9 543.7h1.2M518.2 539.2V550.3M517.0 549.6h1.2M518.2 540.1h1.2M519.5 536.9V551.0M518.3 547.9h1.2M519.5 538.4h1.2M520.7 528.6V539.6M519.5 531.7h1.2M520.7 529.9h1.2M522.0 522.4V541.8M520.8 539.3h1.2M522.0 531.0h1.2M523.3 520.3V530.3M522.1 527.6h1.2M523.3 522.9h1.2M524.6 516.5V524.3M523.4 522.2h1.2M524.6 521.6h1.2M525.9 512.5V525.5M524.7 513.8h1.2M525.9 518.9h1.2M527.1 515.9V523.2M525.9 521.2h1.2M527.1 517.5h1.2M528.4 516.4V520.5M527.2 519.1h1.2M528.4 517.5h1.2M529.7 510.3V524.8M528.5 515.7h1.2M529.7 523.7h1.2M531.0 512.3V516.8M529.8 516.5h1.2M531.0 516.7h1.2M532.2 515.0V531.9M531.0 522.2h1.2M532.2 524.7h1.2M533.5 519.6V533.0M532.3 530.5h1.2M533.5 529.8h1.2M534.8 514.3V530.8M533.6 521.8h1.2M534.8 528.5h1.2M536.1 527.5V537.0M534.9 531.3h1.2M536.1 536.5h1.2M537.4 522.5V535.8M536.2 528.8h1.2M537.4 524.1h1.2M538.6 517.4V531.7M537.4 528.1h1.2M538.6 519.5h1.2M539.9 515.0V520.0M538.7 518.4h1.2M539.9 515.3h1.2M541.2 517.4V526.0M540.0 525.9h1.2M541.2 522.1h1.2M542.5 516.4V528.4M541.3 525.3h1.2M542.5 518.0h1.2M543.8 518.6V532.6M542.5 527.5h1.2M543.8 523.9h1.2M545.0 518.8V532.0M543.8 522.1h1.2M545.0 529.5h1.2M546.3 524.6V535.0M545.1 525.0h1.2M546.3 529.6h1.2M547.6 516.2V531.7M546.4 517.5h1.2M547.6 529.4h1.2M548.9 501.5V521.2M547.7 519.1h1.2M548.9 502.2h1.2M550.1 420.6V503.4M548.9 459.1h1.2M550.1 459.4h1.2M551.4 485.5V497.6M550.2 494.2h1.2M551.4 494.4h1.2M552.7 478.5V489.6M551.5 482.3h1.2M552.7 488.8h1.2M554.0 464.2V487.6M552.8 468.6h1.2M554.0 467.4h1.2M555.3 468.9V480.9M554.1 478.7h1.2M555.3 470.3h1.2M556.5 461.7V475.3M555.3 464.2h1.2M556.5 468.5h1.2M557.8 457.6V472.9M556.6 462.7h1.2M557.8 460.1h1.2M559.1 450.4V470.8M557.9 469.3h1.2M559.1 460.1h1.2M560.4 429.9V459.1M559.2 452.8h1.2M560.4 437.2h1.2M561.6 428.6V448.9M560.4 447.1h1.2M561.6 433.1h1.2M562.9 427.4V447.7M561.7 445.8h1.2M562.9 439.8h1.2M564.2 445.8V460.3M563.0 459.9h1.2M564.2 457.0h1.2M565.5 439.2V458.8M564.3 451.6h1.2M565.5 449.7h1.2M566.8 456.8V477.7M565.6 474.6h1.2M566.8 466.0h1.2M568.0 470.8V489.2M566.8 472.6h1.2M568.0 487.6h1.2M569.3 470.0V490.5M568.1 486.5h1.2M569.3 484.0h1.2M570.6 463.0V475.6M569.4 472.4h1.2M570.6 465.9h1.2M571.9 460.8V485.1M570.7 472.1h1.2M571.9 480.8h1.2M573.1 460.6V484.0M571.9 483.1h1.2M573.1 482.2h1.2M574.4 453.1V467.1M573.2 455.4h1.2M574.4 462.7h1.2M575.7 453.4V465.7M574.5 460.2h1.2M575.7 458.4h1.2M577.0 450.0V472.7M575.8 453.8h1.2M577.0 453.1h1.2M578.3 452.4V461.7M577.1 456.7h1.2M578.3 456.9h1.2M579.5 452.0V462.3M578.3 454.8h1.2M579.5 455.8h1.2M580.8 451.6V464.3M579.6 458.6h1.2M580.8 461.2h1.2M582.1 439.5V458.9M580.9 450.9h1.2M582.1 442.7h1.2M583.4 447.3V460.6M582.2 459.1h1.2M583.4 452.2h1.2M584.6 459.1V472.0M583.4 471.5h1.2M584.6 471.8h1.2M585.9 460.0V469.8M584.7 461.3h1.2M585.9 465.7h1.2M587.2 441.6V462.3M586.0 461.6h1.2M587.2 449.6h1.2M588.5 424.2V446.8M587.3 436.6h1.2M588.5 431.3h1.2M589.8 426.4V450.1M588.6 427.0h1.2M589.8 431.2h1.2M591.0 419.5V440.3M589.8 422.1h1.2M591.0 425.4h1.2M592.3 420.0V442.6M591.1 434.2h1.2M592.3 432.7h1.2M593.6 400.0V421.1M592.4 420.0h1.2M593.6 414.4h1.2M594.9 407.5V420.9M593.7 412.3h1.2M594.9 420.2h1.2M596.1 401.8V410.4M594.9 407.3h1.2M596.1 406.5h1.2M597.4 408.7V428.1M596.2 425.4h1.2M597.4 421.7h1.2M598.7 410.0V430.4M597.5 417.3h1.2M598.7 422.3h1.2M600.0 398.6V413.0M598.8 402.9h1.2M600.0 412.5h1.2M601.3 400.4V426.2M600.1 406.7h1.2M601.3 425.5h1.2M602.5 407.9V427.3M601.3 409.2h1.2M602.5 408.1h1.2M603.8 407.7V426.7M602.6 418.2h1.2M603.8 411.6h1.2M605.1 415.6V444.0M603.9 430.0h1.2M605.1 418.9h1.2M606.4 410.4V425.6M605.2 423.1h1.2M606.4 420.6h1.2M607.7 420.2V452.0M606.5 442.0h1.2M607.7 449.7h1.2M608.9 431.5V445.2M607.7 445.1h1.2M608.9 440.8h1.2M610.2 426.6V458.0M609.0 449.0h1.2M610.2 426.6h1.2M611.5 433.5V446.2M610.3 434.1h1.2M611.5 438.9h1.2M612.8 417.8V434.6M611.6 434.1h1.2M612.8 423.0h1.2M614.0 402.6V419.5M612.8 412.2h1.2M614.0 402.7h1.2M615.3 404.2V431.9M614.1 415.7h1.2M615.3 429.2h1.2M616.6 401.0V430.8M615.4 418.6h1.2M616.6 425.6h1.2M617.9 397.6V418.3M616.7 397.8h1.2M617.9 401.8h1.2M619.2 386.2V408.8M618.0 390.2h1.2M619.2 405.0h1.2M620.4 372.4V391.7M619.2 374.4h1.2M620.4 390.4h1.2M621.7 371.0V397.6M620.5 378.1h1.2M621.7 394.4h1.2M623.0 373.2V387.4M621.8 380.5h1.2M623.0 377.8h1.2M624.3 380.5V403.6M623.1 402.8h1.2M624.3 389.9h1.2M625.5 373.5V384.4M624.3 381.1h1.2M625.5 374.3h1.2M626.8 350.3V381.4M625.6 376.2h1.2M626.8 380.9h1.2M628.1 348.0V368.2M626.9 350.2h1.2M628.1 363.1h1.2M629.4 349.3V365.8M628.2 353.8h1.2M629.4 351.7h1.2M630.7 347.0V358.0M629.5 351.0h1.2M630.7 354.3h1.2M631.9 348.6V356.1M630.7 355.7h1.2M631.9 356.0h1.2M633.2 339.1V355.9M632.0 355.8h1.2M633.2 349.6h1.2M634.5 323.0V345.9M633.3 337.9h1.2M634.5 326.7h1.2M635.8 326.1V347.3M634.6 341.5h1.2M635.8 337.8h1.2M637.0 324.6V335.8M635.8 328.6h1.2M637.0 334.7h1.2M638.3 306.6V334.9M637.1 313.8h1.2M638.3 310.6h1.2M639.6 313.9V340.2M638.4 318.1h1.2M639.6 317.8h1.2M640.9 320.0V340.9M639.7 332.3h1.2M640.9 336.7h1.2M642.2 313.9V342.0M641.0 318.4h1.2M642.2 328.0h1.2M643.4 310.8V321.4M642.2 316.9h1.2M643.4 316.7h1.2M644.7 314.7V338.7M643.5 324.6h1.2M644.7 327.7h1.2M646.0 314.7V339.3M644.8 315.1h1.2M646.0 316.2h1.2M647.3 314.0V341.0M646.1 325.4h1.2M647.3 320.4h1.2M648.5 327.5V341.8M647.3 338.3h1.2M648.5 330.9h1.2M649.8 303.9V331.8M648.6 326.9h1.2M649.8 310.7h1.2M651.1 315.4V345.6M649.9 318.2h1.2M651.1 329.8h1.2M652.4 306.8V341.8M651.2 320.4h1.2M652.4 318.6h1.2M653.7 303.0V336.9M652.5 329.0h1.2M653.7 310.5h1.2M654.9 291.6V315.6M653.7 307.7h1.2M654.9 311.6h1.2M656.2 273.0V315.1M655.0 292.1h1.2M656.2 294.2h1.2M657.5 296.4V328.2M656.3 325.8h1.2M657.5 315.6h1.2M658.8 310.3V332.0M657.6 314.2h1.2M658.8 311.8h1.2M660.0 295.4V334.0M658.8 298.6h1.2M660.0 308.2h1.2M661.3 295.6V327.7M660.1 298.4h1.2M661.3 316.4h1.2M662.6 297.8V328.2M661.4 310.7h1.2M662.6 307.2h1.2M663.9 292.4V310.2M662.7 301.5h1.2M663.9 309.0h1.2M665.2 295.6V309.9M664.0 299.1h1.2M665.2 297.8h1.2M666.4 293.6V301.7M665.2 296.1h1.2M666.4 296.2h1.2M667.7 288.8V324.3M666.5 321.1h1.2M667.7 313.8h1.2M669.0 295.1V321.4M667.8 306.3h1.2M669.0 299.4h1.2M670.3 307.6V330.2M669.1 308.6h1.2M670.3 310.4h1.2M671.6 299.0V319.5M670.4 316.4h1.2M671.6 312.3h1.2M672.8 305.0V332.7M671.6 309.4h1.2M672.8 322.3h1.2M674.1 326.0V331.1M672.9 326.3h1.2M674.1 328.6h1.2M675.4 313.5V354.6M674.2 327.3h1.2M675.4 317.7h1.2M676.7 304.6V331.7M675.5 324.7h1.2M676.7 324.0h1.2M677.9 314.0V338.4M676.7 326.5h1.2M677.9 318.1h1.2M679.2 292.9V328.1M678.0 316.5h1.2M679.2 308.1h1.2M680.5 279.2V314.9M679.3 302.8h1.2M680.5 282.5h1.2M681.8 303.9V342.0M680.6 338.3h1.2M681.8 304.1h1.2M683.1 324.4V338.8M681.9 327.7h1.2M683.1 330.2h1.2M684.3 333.1V339.1M683.1 334.3h1.2M684.3 333.6h1.2M685.6 338.1V362.3M684.4 354.7h1.2M685.6 362.1h1.2M686.9 351.7V391.7M685.7 365.1h1.2M686.9 362.4h1.2M688.2 360.4V389.9M687.0 380.2h1.2M688.2 366.9h1.2M689.4 346.4V368.7M688.2 355.4h1.2M689.4 361.8h1.2M690.7 335.3V366.7M689.5 348.8h1.2M690.7 340.2h1.2M692.0 334.8V363.0M690.8 336.8h1.2M692.0 350.1h1.2M693.3 338.6V359.5M692.1 359.3h1.2M693.3 357.9h1.2M694.6 334.2V346.8M693.4 335.5h1.2M694.6 340.5h1.2M695.8 332.7V352.5M694.6 342.4h1.2M695.8 336.5h1.2M697.1 342.9V361.1M695.9 355.1h1.2M697.1 351.9h1.2M698.4 336.6V378.0M697.2 370.1h1.2M698.4 348.7h1.2M699.7 346.6V371.3M698.5 369.7h1.2M699.7 366.7h1.2M700.9 313.2V348.2M699.7 329.8h1.2M700.9 318.1h1.2M702.2 320.1V348.8M701.0 334.0h1.2M702.2 323.8h1.2M703.5 310.8V334.1M702.3 326.8h1.2M703.5 327.0h1.2M704.8 301.0V325.2M703.6 315.0h1.2M704.8 324.7h1.2M706.1 303.9V316.4M704.9 304.5h1.2M706.1 312.8h1.2M707.3 305.0V311.4M706.1 310.1h1.2M707.3 305.7h1.2M708.6 302.9V319.7M707.4 308.3h1.2M708.6 303.8h1.2M709.9 287.1V313.5M708.7 302.5h1.2M709.9 306.2h1.2M711.2 287.5V294.4M710.0 289.9h1.2M711.2 292.3h1.2M712.4 286.0V296.7M711.2 289.9h1.2M712.4 293.6h1.2M713.7 288.1V304.1M712.5 292.5h1.2M713.7 303.8h1.2M715.0 273.0V313.5M713.8 290.7h1.2M715.0 273.1h1.2M716.3 300.4V309.8M715.1 301.2h1.2M716.3 307.2h1.2M717.6 301.2V338.7M716.4 333.7h1.2M717.6 325.1h1.2M718.8 334.6V391.7M717.6 343.5h1.2M718.8 384.4h1.2M720.1 337.8V367.2M718.9 358.9h1.2M720.1 341.2h1.2M721.4 358.9V402.7M720.2 375.6h1.2M721.4 388.3h1.2M722.7 376.8V388.3M721.5 376.8h1.2M722.7 377.3h1.2M723.9 365.7V389.1M722.7 374.0h1.2M723.9 386.2h1.2M725.2 360.2V394.4M724.0 394.3h1.2M725.2 371.1h1.2M726.5 360.6V384.8M725.3 382.6h1.2M726.5 379.6h1.2M727.8 347.6V380.2M726.6 375.8h1.2M727.8 366.8h1.2M729.1 336.8V361.9M727.9 361.1h1.2M729.1 353.0h1.2M730.3 326.9V340.8M729.1 340.1h1.2M730.3 334.8h1.2M731.6 329.7V352.9M730.4 334.3h1.2M731.6 341.7h1.2M732.9 324.5V353.9M731.7 338.7h1.2M732.9 334.4h1.2M734.2 325.8V347.2M733.0 333.8h1.2M734.2 336.7h1.2M735.5 335.7V364.0M734.2 352.4h1.2M735.5 342.0h1.2M736.7 333.4V356.5M735.5 339.8h1.2M736.7 345.0h1.2M738.0 342.5V353.7M736.8 348.1h1.2M738.0 347.2h1.2M739.3 352.5V362.7M738.1 359.3h1.2M739.3 354.4h1.2M740.6 344.7V365.8M739.4 355.9h1.2M740.6 350.5h1.2M741.8 341.0V377.2M740.6 368.9h1.2M741.8 366.5h1.2M743.1 349.9V387.3M741.9 379.1h1.2M743.1 369.3h1.2M744.4 386.1V408.8M743.2 391.8h1.2M744.4 407.1h1.2M745.7 407.1V446.1M744.5 427.0h1.2M745.7 421.7h1.2M747.0 417.1V461.6M745.8 430.0h1.2M747.0 435.0h1.2M748.2 427.6V484.0M747.0 467.6h1.2M748.2 473.8h1.2M749.5 448.1V492.7M748.3 469.6h1.2M749.5 480.7h1.2M750.8 429.9V459.6M749.6 436.3h1.2M750.8 443.4h1.2M752.1 412.3V432.4M750.9 419.5h1.2M752.1 418.5h1.2M753.3 411.4V417.4M752.1 413.6h1.2M753.3 415.9h1.2M754.6 409.0V442.3M753.4 433.4h1.2M754.6 415.9h1.2M755.9 412.7V428.8M754.7 416.5h1.2M755.9 425.3h1.2M757.2 415.5V444.7M756.0 434.6h1.2M757.2 435.2h1.2M758.5 412.4V431.2M757.3 424.4h1.2M758.5 425.5h1.2M759.7 379.7V414.4M758.5 389.1h1.2M759.7 381.8h1.2M761.0 361.0V402.9M759.8 376.1h1.2M761.0 362.4h1.2M762.3 379.3V425.8M761.1 424.0h1.2M762.3 403.7h1.2M763.6 406.9V430.3M762.4 422.6h1.2M763.6 429.6h1.2M764.8 428.9V510.5M763.6 494.5h1.2M764.8 447.6h1.2M766.1 459.3V479.6M764.9 466.2h1.2M766.1 461.5h1.2M767.4 452.1V502.0M766.2 491.8h1.2M767.4 488.9h1.2M768.7 457.5V483.5M767.5 470.2h1.2M768.7 467.1h1.2M770.0 437.8V485.6M768.8 450.7h1.2M770.0 461.1h1.2M771.2 474.1V485.7M770.0 482.3h1.2M771.2 484.5h1.2M772.5 458.8V487.0M771.3 482.7h1.2M772.5 483.3h1.2M773.8 464.5V484.3M772.6 473.2h1.2M773.8 472.8h1.2M775.1 452.1V480.4M773.9 461.0h1.2M775.1 479.7h1.2M776.3 448.5V464.9M775.1 451.5h1.2M776.3 451.1h1.2M777.6 446.0V487.3M776.4 457.6h1.2M777.6 484.1h1.2M778.9 447.6V465.3M777.7 462.7h1.2M778.9 453.5h1.2M780.2 447.8V477.4M779.0 473.0h1.2M780.2 474.2h1.2M781.5 443.0V484.5M780.3 460.7h1.2M781.5 451.0h1.2M782.7 454.3V491.8M781.5 483.3h1.2M782.7 468.4h1.2M784.0 488.6V522.3M782.8 492.6h1.2M784.0 519.0h1.2M785.3 471.5V496.8M784.1 482.6h1.2M785.3 481.6h1.2M786.6 482.6V502.2M785.4 494.3h1.2M786.6 487.6h1.2M787.8 465.1V515.9M786.6 466.1h1.2M787.8 484.9h1.2M789.1 513.8V546.1M787.9 526.0h1.2M789.1 514.1h1.2M790.4 510.3V538.4M789.2 520.7h1.2M790.4 531.7h1.2M791.7 509.0V553.0M790.5 523.7h1.2M791.7 538.9h1.2M793.0 533.5V548.0M791.8 542.6h1.2M793.0 536.2h1.2M794.2 515.8V561.0M793.0 516.7h1.2M794.2 546.3h1.2M795.5 514.7V545.7M794.3 533.7h1.2M795.5 523.8h1.2M796.8 518.0V535.3M795.6 521.5h1.2M796.8 532.8h1.2M798.1 509.0V535.2M796.9 532.8h1.2M798.1 515.1h1.2M799.4 527.4V535.9M798.1 532.3h1.2M799.4 532.2h1.2M800.6 513.2V539.0M799.4 521.5h1.2M800.6 514.1h1.2M801.9 510.1V529.4M800.7 516.4h1.2M801.9 522.5h1.2M803.2 510.0V521.8M802.0 517.1h1.2M803.2 516.0h1.2M804.5 489.4V511.3M803.3 492.1h1.2M804.5 494.1h1.2M805.7 496.4V519.2M804.5 503.5h1.2M805.7 505.9h1.2M807.0 509.0V539.4M805.8 520.0h1.2M807.0 536.4h1.2M808.3 518.9V550.0M807.1 522.6h1.2M808.3 549.6h1.2M809.6 516.1V538.1M808.4 521.4h1.2M809.6 534.9h1.2M810.9 523.2V536.9M809.7 526.6h1.2M810.9 531.3h1.2M812.1 518.2V524.4M810.9 520.6h1.2M812.1 518.5h1.2M813.4 518.1V525.7M812.2 524.1h1.2M813.4 524.2h1.2M814.7 511.6V528.0M813.5 516.0h1.2M814.7 524.3h1.2M816.0 509.1V524.8M814.8 516.6h1.2M816.0 524.6h1.2M817.2 497.1V510.9M816.0 497.8h1.2M817.2 502.3h1.2M818.5 494.9V515.2M817.3 499.5h1.2M818.5 507.6h1.2M819.8 500.3V517.3M818.6 513.5h1.2M819.8 514.6h1.2M821.1 498.3V518.7M819.9 509.5h1.2M821.1 506.2h1.2M822.4 496.0V508.3M821.2 505.8h1.2M822.4 497.3h1.2M823.6 487.8V499.2M822.4 490.8h1.2M823.6 496.4h1.2M824.9 480.8V501.8M823.7 490.1h1.2M824.9 501.7h1.2M826.2 469.4V482.3M825.0 470.6h1.2M826.2 475.4h1.2M827.5 453.7V472.6M826.3 457.7h1.2M827.5 453.7h1.2M828.7 467.3V477.4M827.5 468.2h1.2M828.7 468.2h1.2M830.0 456.6V479.0M828.8 464.9h1.2M830.0 466.3h1.2M831.3 458.4V468.2M830.1 463.4h1.2M831.3 461.3h1.2M832.6 453.4V472.0M831.4 466.4h1.2M832.6 463.0h1.2M833.9 444.6V461.5M832.7 461.2h1.2M833.9 447.5h1.2M835.1 452.9V475.1M833.9 464.2h1.2M835.1 463.8h1.2M836.4 450.8V468.2M835.2 457.2h1.2M836.4 465.7h1.2M837.7 455.1V472.8M836.5 458.8h1.2M837.7 470.6h1.2M839.0 435.0V458.8M837.8 443.5h1.2M839.0 443.0h1.2M840.2 452.8V471.2M839.0 464.1h1.2M840.2 463.2h1.2M841.5 458.5V481.7M840.3 465.1h1.2M841.5 460.4h1.2M842.8 448.7V460.1M841.6 459.6h1.2M842.8 452.9h1.2M844.1 459.0V469.8M842.9 460.2h1.2M844.1 466.1h1.2M845.4 440.5V461.0M844.2 451.4h1.2M845.4 447.2h1.2M846.6 441.8V453.3M845.4 445.5h1.2M846.6 451.5h1.2M847.9 439.0V448.2M846.7 442.1h1.2M847.9 442.8h1.2M849.2 440.3V460.9M848.0 460.0h1.2M849.2 447.7h1.2M850.5 441.1V460.2M849.3 448.8h1.2M850.5 444.2h1.2M851.7 446.9V460.1M850.5 455.6h1.2M851.7 455.6h1.2M853.0 445.1V473.5M851.8 457.8h1.2M853.0 456.6h1.2M854.3 431.7V446.8M853.1 435.2h1.2M854.3 443.6h1.2M855.6 432.9V446.6M854.4 439.2h1.2M855.6 444.3h1.2M856.9 435.4V449.5M855.7 440.6h1.2M856.9 445.7h1.2M858.1 431.0V443.3M856.9 431.4h1.2M858.1 433.7h1.2M859.4 430.0V446.7M858.2 446.0h1.2M859.4 441.4h1.2M860.7 431.0V439.4M859.5 436.7h1.2M860.7 435.2h1.2M862.0 434.0V445.5M860.8 439.5h1.2M862.0 436.3h1.2M863.2 427.0V437.2M862.0 428.7h1.2M863.2 433.6h1.2M864.5 416.5V436.6M863.3 430.4h1.2M864.5 421.7h1.2M865.8 407.6V433.1M864.6 424.0h1.2M865.8 411.1h1.2M867.1 424.5V439.1M865.9 433.5h1.2M867.1 427.0h1.2M868.4 435.3V450.5M867.2 443.0h1.2M868.4 440.1h1.2M869.6 443.0V454.6M868.4 449.4h1.2M869.6 444.5h1.2M870.9 452.5V479.0M869.7 465.3h1.2M870.9 468.9h1.2M872.2 452.4V467.9M871.0 454.5h1.2M872.2 457.2h1.2M873.5 452.6V481.0M872.3 471.9h1.2M873.5 468.1h1.2M874.8 443.0V458.1M873.6 452.3h1.2M874.8 454.8h1.2M876.0 448.0V456.2M874.8 452.7h1.2M876.0 449.8h1.2M877.3 433.4V449.2M876.1 440.4h1.2M877.3 446.5h1.2M878.6 419.5V436.2M877.4 429.0h1.2M878.6 432.1h1.2M879.9 413.7V437.0M878.7 422.2h1.2M879.9 424.1h1.2M881.1 420.3V430.6M879.9 430.3h1.2M881.1 428.7h1.2M882.4 408.4V429.5M881.2 422.2h1.2M882.4 410.6h1.2M883.7 422.3V440.8M882.5 433.6h1.2M883.7 422.9h1.2M885.0 426.9V443.9M883.8 442.8h1.2M885.0 443.4h1.2M886.3 426.2V445.9M885.1 440.5h1.2M886.3 431.5h1.2M887.5 437.5V452.4M886.3 450.1h1.2M887.5 440.2h1.2M888.8 440.0V465.0M887.6 460.7h1.2M888.8 453.0h1.2M890.1 428.9V442.8M888.9 429.1h1.2M890.1 441.3h1.2M891.4 431.1V452.8M890.2 440.6h1.2M891.4 449.1h1.2M892.6 427.6V439.3M891.4 435.7h1.2M892.6 433.8h1.2M893.9 431.1V438.7M892.7 437.6h1.2M893.9 432.6h1.2M895.2 431.0V438.4M894.0 437.6h1.2M895.2 433.5h1.2M896.5 430.4V452.1M895.3 431.0h1.2M896.5 437.7h1.2M897.8 424.6V434.5M896.6 425.2h1.2M897.8 425.3h1.2M899.0 415.8V437.5M897.8 429.4h1.2M899.0 418.4h1.2M900.3 418.2V427.5M899.1 419.7h1.2M900.3 420.9h1.2M901.6 404.7V428.0M900.4 411.2h1.2M901.6 426.1h1.2M902.9 407.9V427.5M901.7 425.6h1.2M902.9 425.0h1.2M904.1 396.6V410.1M902.9 410.0h1.2M904.1 402.5h1.2M905.4 397.7V411.8M904.2 408.9h1.2M905.4 401.7h1.2M906.7 400.3V418.5M905.5 417.2h1.2M906.7 415.1h1.2M908.0 399.2V408.4M906.8 405.9h1.2M908.0 401.3h1.2M909.3 399.5V414.5M908.1 400.9h1.2M909.3 413.4h1.2M910.5 392.9V405.1M909.3 399.6h1.2M910.5 400.4h1.2M911.8 391.7V415.6M910.6 412.3h1.2M911.8 395.1h1.2M913.1 393.7V411.4M911.9 406.0h1.2M913.1 401.9h1.2M914.4 399.3V420.4M913.2 415.9h1.2M914.4 408.9h1.2M915.6 396.5V416.4M914.4 400.4h1.2M915.6 415.5h1.2M916.9 414.0V434.6M915.7 419.8h1.2M916.9 429.3h1.2M918.2 418.7V439.4M917.0 435.9h1.2M918.2 423.8h1.2M919.5 421.5V433.2M918.3 429.6h1.2M919.5 426.2h1.2M920.8 418.6V439.3M919.6 423.2h1.2M920.8 423.1h1.2M922.0 415.8V427.9M920.8 427.4h1.2M922.0 420.3h1.2M923.3 423.6V438.3M922.1 431.1h1.2M923.3 431.0h1.2M924.6 431.0V443.0M923.4 431.4h1.2M924.6 440.1h1.2M925.9 426.4V440.5M924.7 436.9h1.2M925.9 438.8h1.2M927.2 421.1V454.0M926.0 432.9h1.2M927.2 428.0h1.2M928.4 413.0V428.1M927.2 418.3h1.2M928.4 424.1h1.2M929.7 414.9V424.5M928.5 421.2h1.2M929.7 418.8h1.2M931.0 396.7V416.5M929.8 407.1h1.2M931.0 399.8h1.2M932.3 380.5V399.0M931.1 397.5h1.2M932.3 389.2h1.2M933.5 381.2V404.2M932.3 392.9h1.2M933.5 399.3h1.2M934.8 384.6V400.4M933.6 387.7h1.2M934.8 396.0h1.2M936.1 373.0V389.0M934.9 378.6h1.2M936.1 386.0h1.2M937.4 366.5V384.1M936.2 368.2h1.2M937.4 371.4h1.2M938.7 369.4V377.9M937.5 374.8h1.2M938.7 373.5h1.2M939.9 367.6V376.4M938.7 370.9h1.2M939.9 372.7h1.2M941.2 368.1V379.5M940.0 370.6h1.2M941.2 373.1h1.2M942.5 359.1V370.0M941.3 359.1h1.2M942.5 367.8h1.2M943.8 361.2V377.3M942.6 365.3h1.2M943.8 374.6h1.2M945.0 344.6V369.5M943.8 358.3h1.2M945.0 359.6h1.2M946.3 358.5V383.1M945.1 373.9h1.2M946.3 361.6h1.2M947.6 358.6V376.2M946.4 372.3h1.2M947.6 363.8h1.2M948.9 354.7V382.2M947.7 378.4h1.2M948.9 376.3h1.2M950.2 371.8V391.6M949.0 385.3h1.2M950.2 388.0h1.2M951.4 380.5V403.9M950.2 390.8h1.2M951.4 396.3h1.2M952.7 396.3V444.8M951.5 442.5h1.2M952.7 405.5h1.2M954.0 401.5V416.7M952.8 403.1h1.2M954.0 407.8h1.2M955.3 405.0V423.2M954.1 414.3h1.2M955.3 407.7h1.2M956.5 388.4V406.1M955.3 392.3h1.2M956.5 403.7h1.2M957.8 403.8V425.6M956.6 412.3h1.2M957.8 407.1h1.2M959.1 424.3V437.4M957.9 426.6h1.2M959.1 431.8h1.2M960.4 425.9V453.0M959.2 431.1h1.2M960.4 438.8h1.2M961.7 420.0V435.5M960.5 428.4h1.2M961.7 426.9h1.2M962.9 411.9V423.1M961.7 417.5h1.2M962.9 421.2h1.2M964.2 403.3V414.2M963.0 403.5h1.2M964.2 413.4h1.2M965.5 390.4V406.4M964.3 393.6h1.2M965.5 391.0h1.2M966.8 385.8V395.9M965.6 393.6h1.2M966.8 391.6h1.2M968.0 362.5V388.0M966.8 376.2h1.2M968.0 368.0h1.2M969.3 364.2V377.8M968.1 374.9h1.2M969.3 368.4h1.2M970.6 375.8V404.3M969.4 396.5h1.2M970.6 382.3h1.2M971.9 384.7V403.5M970.7 395.5h1.2M971.9 396.9h1.2M973.2 396.5V409.6M972.0 401.3h1.2M973.2 402.7h1.2M974.4 382.9V421.5M973.2 385.4h1.2M974.4 407.7h1.2M975.7 384.0V405.9M974.5 399.2h1.2M975.7 387.4h1.2M977.0 386.0V400.2M975.8 393.8h1.2M977.0 396.4h1.2M978.3 386.7V403.9M977.1 388.5h1.2M978.3 401.1h1.2M979.5 381.9V398.8M978.3 396.7h1.2M979.5 382.8h1.2M980.8 383.8V400.3M979.6 387.9h1.2M980.8 385.2h1.2M982.1 386.0V397.1M980.9 388.8h1.2M982.1 387.0h1.2M983.4 395.1V414.6M982.2 404.6h1.2M983.4 400.0h1.2M984.7 390.7V403.6M983.5 394.5h1.2M984.7 396.6h1.2M985.9 387.9V402.4M984.7 393.3h1.2M985.9 399.3h1.2M987.2 372.3V389.3M986.0 384.6h1.2M987.2 374.2h1.2M988.5 370.8V386.5M987.3 374.3h1.2M988.5 370.9h1.2M989.8 353.9V379.9M988.6 362.5h1.2M989.8 356.8h1.2M991.1 354.8V381.9M989.9 373.7h1.2M991.1 375.9h1.2M992.3 356.8V372.1M991.1 372.0h1.2M992.3 360.0h1.2M993.6 342.7V363.9M992.4 343.5h1.2M993.6 358.8h1.2M994.9 346.4V356.7M993.7 350.7h1.2M994.9 356.0h1.2M996.2 350.0V370.1M995.0 357.9h1.2M996.2 356.3h1.2M997.4 344.1V363.6M996.2 345.5h1.2M997.4 362.6h1.2M998.7 329.7V351.8M997.5 341.0h1.2M998.7 339.5h1.2M1000.0 333.6V344.6M998.8 338.4h1.2M1000.0 342.1h1.2M1001.3 327.6V345.0M1000.1 342.1h1.2M1001.3 335.9h1.2M1002.6 338.7V354.6M1001.4 341.6h1.2M1002.6 345.2h1.2M1003.8 340.1V362.8M1002.6 360.3h1.2M1003.8 349.3h1.2M1005.1 348.7V367.3M1003.9 361.0h1.2M1005.1 359.1h1.2M1006.4 351.7V362.8M1005.2 356.8h1.2M1006.4 358.0h1.2M1007.7 361.7V374.5M1006.5 364.9h1.2M1007.7 368.9h1.2M1008.9 348.4V371.1M1007.7 368.0h1.2M1008.9 350.2h1.2M1010.2 369.8V388.7M1009.0 376.8h1.2M1010.2 386.4h1.2M1011.5 383.8V410.5M1010.3 409.9h1.2M1011.5 384.2h1.2M1012.8 376.9V394.1M1011.6 387.7h1.2M1012.8 387.8h1.2M1014.1 365.0V389.9M1012.9 386.0h1.2M1014.1 376.7h1.2M1015.3 366.3V383.5M1014.1 368.6h1.2M1015.3 371.5h1.2M1016.6 367.8V390.2M1015.4 383.7h1.2M1016.6 384.1h1.2M1017.9 368.4V385.7M1016.7 372.0h1.2M1017.9 379.5h1.2M1019.2 366.9V381.9M1018.0 376.8h1.2M1019.2 376.8h1.2M1020.4 365.3V380.9M1019.2 365.6h1.2M1020.4 372.2h1.2M1021.7 370.4V386.2M1020.5 375.6h1.2M1021.7 379.9h1.2M1023.0 367.4V381.9M1021.8 372.3h1.2M1023.0 369.3h1.2M1024.3 363.9V377.1M1023.1 372.8h1.2M1024.3 367.7h1.2M1025.6 371.5V382.5M1024.4 380.2h1.2M1025.6 374.9h1.2M1026.8 375.3V387.5M1025.6 381.9h1.2M1026.8 385.2h1.2M1028.1 376.7V397.3M1026.9 379.1h1.2M1028.1 391.8h1.2M1029.4 390.3V401.1M1028.2 391.1h1.2M1029.4 400.4h1.2M1030.7 380.0V409.0M1029.5 380.7h1.2M1030.7 401.0h1.2M1031.9 394.7V407.4M1030.7 399.4h1.2M1031.9 397.0h1.2M1033.2 401.0V419.5M1032.0 408.3h1.2M1033.2 410.3h1.2M1034.5 393.6V406.6M1033.3 399.0h1.2M1034.5 395.2h1.2M1035.8 385.3V401.8M1034.6 393.9h1.2M1035.8 390.3h1.2M1037.1 374.8V404.8M1035.9 403.9h1.2M1037.1 386.3h1.2M1038.3 382.0V393.7M1037.1 387.1h1.2M1038.3 384.7h1.2M1039.6 382.8V393.0M1038.4 392.7h1.2M1039.6 386.1h1.2M1040.9 378.1V390.2M1039.7 385.9h1.2M1040.9 388.2h1.2M1042.2 382.2V396.1M1041.0 387.7h1.2M1042.2 392.7h1.2M1043.4 373.8V384.5M1042.2 376.8h1.2M1043.4 375.0h1.2M1044.7 366.1V392.5M1043.5 367.2h1.2M1044.7 377.9h1.2M1046.0 370.5V394.2M1044.8 391.2h1.2M1046.0 375.3h1.2M1047.3 378.1V390.7M1046.1 383.6h1.2M1047.3 387.7h1.2M1048.6 367.2V380.0M1047.4 370.7h1.2M1048.6 369.1h1.2M1049.8 361.8V385.8M1048.6 374.3h1.2M1049.8 372.0h1.2M1051.1 358.4V368.8M1049.9 368.2h1.2M1051.1 367.7h1.2M1052.4 355.6V369.0M1051.2 358.8h1.2M1052.4 363.1h1.2M1053.7 366.5V385.5M1052.5 374.4h1.2M1053.7 367.2h1.2M1054.9 366.1V381.3M1053.7 372.8h1.2M1054.9 380.0h1.2M1056.2 352.4V370.2M1055.0 357.8h1.2M1056.2 362.8h1.2M1057.5 321.5V353.6M1056.3 344.3h1.2M1057.5 323.5h1.2M1058.8 318.6V338.1M1057.6 336.6h1.2M1058.8 320.7h1.2M1060.1 325.7V342.6M1058.9 330.8h1.2M1060.1 337.8h1.2M1061.3 321.7V329.3M1060.1 321.9h1.2M1061.3 324.6h1.2M1062.6 327.4V346.0M1061.4 329.7h1.2M1062.6 336.2h1.2M1063.9 309.6V340.7M1062.7 310.0h1.2M1063.9 314.3h1.2M1065.2 289.1V311.4M1064.0 294.0h1.2M1065.2 290.9h1.2M1066.5 288.0V303.8M1065.3 289.4h1.2M1066.5 291.0h1.2M1067.7 278.8V300.8M1066.5 290.2h1.2M1067.7 281.8h1.2M1069.0 281.1V284.2M1067.8 283.7h1.2M1069.0 282.4h1.2M1070.3 282.2V305.0M1069.1 288.0h1.2M1070.3 287.7h1.2M1071.6 280.0V305.9M1070.4 301.8h1.2M1071.6 281.2h1.2M1072.8 277.4V298.9M1071.6 293.3h1.2M1072.8 279.5h1.2M1074.1 287.9V306.0M1072.9 305.0h1.2M1074.1 295.3h1.2M1075.4 304.7V323.8M1074.2 316.1h1.2M1075.4 321.2h1.2M1076.7 291.5V312.6M1075.5 293.6h1.2M1076.7 292.8h1.2M1078.0 298.8V314.1M1076.8 309.4h1.2M1078.0 307.8h1.2M1079.2 304.4V332.3M1078.0 324.5h1.2M1079.2 312.2h1.2M1080.5 299.8V315.7M1079.3 307.7h1.2M1080.5 302.8h1.2M1081.8 299.4V329.1M1080.6 312.4h1.2M1081.8 307.8h1.2M1083.1 276.9V305.1M1081.9 293.4h1.2M1083.1 285.3h1.2M1084.3 274.0V300.7M1083.1 281.3h1.2M1084.3 291.2h1.2M1085.6 278.0V295.8M1084.4 279.5h1.2M1085.6 292.3h1.2M1086.9 283.3V302.2M1085.7 292.7h1.2M1086.9 287.7h1.2M1088.2 282.9V306.2M1087.0 285.6h1.2M1088.2 294.8h1.2M1089.5 293.1V313.8M1088.3 303.5h1.2M1089.5 308.0h1.2M1090.7 306.5V323.1M1089.5 312.7h1.2M1090.7 313.4h1.2M1092.0 301.9V319.6M1090.8 317.7h1.2M1092.0 306.7h1.2M1093.3 311.9V327.0M1092.1 326.8h1.2M1093.3 325.4h1.2M1094.6 307.1V328.2M1093.4 328.0h1.2M1094.6 327.0h1.2M1095.8 320.6V325.8M1094.6 321.9h1.2M1095.8 324.8h1.2M1097.1 318.1V333.7M1095.9 327.7h1.2M1097.1 321.3h1.2M1098.4 328.6V373.5M1097.2 373.4h1.2M1098.4 357.7h1.2M1099.7 333.2V347.2M1098.5 344.5h1.2M1099.7 341.0h1.2M1101.0 327.7V342.7M1099.8 328.9h1.2M1101.0 340.7h1.2M1102.2 317.0V340.0M1101.0 321.0h1.2M1102.2 323.0h1.2M1103.5 320.8V342.4M1102.3 334.1h1.2M1103.5 325.0h1.2M1104.8 319.2V343.5M1103.6 330.4h1.2M1104.8 336.5h1.2M1106.1 330.0V348.5M1104.9 331.8h1.2M1106.1 342.2h1.2M1107.3 329.5V354.3M1106.1 332.1h1.2M1107.3 341.3h1.2M1108.6 343.3V360.6M1107.4 354.5h1.2M1108.6 355.2h1.2M1109.9 352.2V364.9M1108.7 352.7h1.2M1109.9 354.6h1.2M1111.2 355.5V369.5M1110.0 368.9h1.2M1111.2 361.0h1.2M1112.5 351.5V370.2M1111.3 359.5h1.2M1112.5 358.5h1.2M1113.7 350.8V374.6M1112.5 367.3h1.2M1113.7 368.4h1.2M1115.0 344.6V377.7M1113.8 366.1h1.2M1115.0 357.9h1.2M1116.3 357.7V374.4M1115.1 367.2h1.2M1116.3 366.3h1.2M1117.6 359.9V393.0M1116.4 366.1h1.2M1117.6 391.3h1.2M1118.8 374.8V386.4M1117.6 386.0h1.2M1118.8 383.8h1.2M1120.1 357.2V376.1M1118.9 375.9h1.2M1120.1 366.0h1.2M1121.4 352.9V366.0M1120.2 363.9h1.2M1121.4 356.1h1.2M1122.7 355.4V374.5M1121.5 369.6h1.2M1122.7 369.0h1.2M1124.0 359.2V375.4M1122.8 374.4h1.2M1124.0 372.7h1.2M1125.2 363.3V385.2M1124.0 382.6h1.2M1125.2 369.2h1.2M1126.5 375.6V386.4M1125.3 384.1h1.2M1126.5 380.7h1.2M1127.8 371.0V385.1M1126.6 375.4h1.2M1127.8 376.2h1.2M1129.1 359.0V376.1M1127.9 372.6h1.2M1129.1 373.4h1.2M1130.4 335.4V360.2M1129.2 356.3h1.2M1130.4 352.0h1.2M1131.6 332.3V360.0M1130.4 337.0h1.2M1131.6 336.6h1.2M1132.9 339.9V352.0M1131.7 346.7h1.2M1132.9 342.4h1.2M1134.2 340.8V363.4M1133.0 348.4h1.2M1134.2 343.1h1.2M1135.5 341.8V360.3M1134.3 344.6h1.2M1135.5 355.1h1.2M1136.7 325.2V343.9M1135.5 329.4h1.2M1136.7 341.1h1.2M1138.0 321.3V337.8M1136.8 326.7h1.2M1138.0 335.3h1.2M1139.3 324.3V346.0M1138.1 330.9h1.2M1139.3 330.1h1.2M1140.6 335.6V347.9M1139.4 340.4h1.2M1140.6 335.7h1.2M1141.9 331.1V345.8M1140.7 337.5h1.2M1141.9 336.7h1.2M1143.1 331.8V351.0M1141.9 332.0h1.2M1143.1 348.3h1.2M1144.4 328.3V343.1M1143.2 333.9h1.2M1144.4 328.3h1.2M1145.7 318.0V337.2M1144.5 336.5h1.2M1145.7 322.4h1.2M1147.0 319.7V338.4M1145.8 324.5h1.2M1147.0 320.2h1.2M1148.2 308.5V326.6M1147.0 310.3h1.2M1148.2 321.3h1.2M1149.5 303.9V323.0M1148.3 315.0h1.2M1149.5 313.5h1.2M1150.8 312.5V338.1M1149.6 318.8h1.2M1150.8 319.8h1.2M1152.1 322.9V351.0M1150.9 350.2h1.2M1152.1 333.3h1.2M1153.4 313.9V340.9M1152.2 340.6h1.2M1153.4 337.8h1.2M1154.6 324.3V345.4M1153.4 326.9h1.2M1154.6 342.2h1.2M1155.9 324.3V348.1M1154.7 324.8h1.2M1155.9 341.2h1.2M1157.2 324.2V350.8M1156.0 345.8h1.2M1157.2 342.7h1.2M1158.5 321.0V338.8M1157.3 330.8h1.2M1158.5 335.5h1.2M1159.7 335.7V353.4M1158.5 338.4h1.2M1159.7 345.2h1.2M1161.0 336.6V348.1M1159.8 339.6h1.2M1161.0 341.2h1.2M1162.3 344.9V367.3M1161.1 349.2h1.2M1162.3 360.7h1.2M1163.6 349.5V377.0M1162.4 365.2h1.2M1163.6 370.9h1.2M1164.9 350.9V362.7M1163.7 358.3h1.2M1164.9 358.0h1.2M1166.1 351.8V367.7M1164.9 366.5h1.2M1166.1 364.7h1.2M1167.4 334.4V354.2M1166.2 345.6h1.2M1167.4 340.9h1.2M1168.7 332.6V345.8M1167.5 344.9h1.2M1168.7 337.5h1.2M1170.0 323.6V344.2M1168.8 325.7h1.2M1170.0 330.5h1.2M1171.2 326.7V341.9M1170.0 337.5h1.2M1171.2 340.9h1.2M1172.5 315.3V328.3M1171.3 323.7h1.2M1172.5 323.9h1.2M1173.8 306.6V320.2M1172.6 319.3h1.2M1173.8 317.2h1.2M1175.1 315.6V338.0M1173.9 325.6h1.2M1175.1 326.0h1.2M1176.4 330.8V362.0M1175.2 354.5h1.2M1176.4 340.7h1.2M1177.6 338.5V349.2M1176.4 339.7h1.2M1177.6 345.1h1.2M1178.9 334.8V352.0M1177.7 348.7h1.2M1178.9 339.0h1.2M1180.2 333.8V362.0M1179.0 353.1h1.2M1180.2 359.0h1.2M1181.5 293.9V335.8M1180.3 299.3h1.2M1181.5 299.6h1.2M1182.8 279.0V306.0M1181.5 292.3h1.2M1182.8 288.0h1.2M1184.0 270.7V297.9M1182.8 296.5h1.2M1184.0 297.8h1.2M1185.3 281.4V293.3M1184.1 286.7h1.2M1185.3 290.9h1.2M1186.6 281.8V308.5M1185.4 298.7h1.2M1186.6 286.4h1.2M1187.9 269.3V290.1M1186.7 289.5h1.2M1187.9 272.9h1.2M1189.1 252.3V271.1M1187.9 253.7h1.2M1189.1 260.8h1.2M1190.4 254.8V273.6M1189.2 255.1h1.2M1190.4 263.8h1.2M1191.7 256.8V272.6M1190.5 263.3h1.2M1191.7 271.8h1.2M1193.0 246.8V264.7M1191.8 254.2h1.2M1193.0 262.0h1.2M1194.3 235.6V249.3M1193.1 246.3h1.2M1194.3 243.6h1.2M1195.5 223.3V249.6M1194.3 229.5h1.2M1195.5 231.3h1.2M1196.8 224.6V248.4M1195.6 236.3h1.2M1196.8 234.0h1.2M1198.1 216.2V229.0M1196.9 224.5h1.2M1198.1 222.7h1.2M1199.4 202.4V225.3M1198.2 209.8h1.2M1199.4 216.3h1.2M1200.6 211.8V235.0M1199.4 234.9h1.2M1200.6 216.5h1.2M1201.9 216.0V238.0M1200.7 223.4h1.2M1201.9 216.3h1.2M1203.2 233.0V249.1M1202.0 234.5h1.2M1203.2 233.9h1.2M1204.5 236.0V261.4M1203.3 246.7h1.2M1204.5 257.3h1.2M1205.8 235.4V253.9M1204.6 248.3h1.2M1205.8 253.3h1.2M1207.0 252.1V267.1M1205.8 264.7h1.2M1207.0 260.9h1.2M1208.3 248.1V272.9M1207.1 262.5h1.2M1208.3 248.5h1.2M1209.6 270.0V289.4M1208.4 277.4h1.2M1209.6 275.1h1.2M1210.9 271.2V304.4M1209.7 291.8h1.2M1210.9 273.3h1.2M1212.1 269.4V286.7M1210.9 278.8h1.2M1212.1 275.9h1.2M1213.4 246.8V273.0M1212.2 259.7h1.2M1213.4 257.4h1.2M1214.7 259.7V275.1M1213.5 261.3h1.2M1214.7 271.0h1.2M1216.0 251.4V274.5M1214.8 269.9h1.2M1216.0 265.2h1.2M1217.3 255.4V283.2M1216.1 258.6h1.2M1217.3 272.0h1.2M1218.5 264.5V274.8M1217.3 273.4h1.2M1218.5 274.6h1.2M1219.8 244.0V311.0M1218.6 294.8h1.2M1219.8 247.1h1.2M1221.1 299.9V316.5M1219.9 314.5h1.2M1221.1 310.9h1.2M1222.4 315.2V358.0M1221.2 327.0h1.2M1222.4 354.6h1.2M1223.6 323.5V339.0M1222.4 336.3h1.2M1223.6 337.3h1.2M1224.9 330.0V349.7M1223.7 334.9h1.2M1224.9 341.4h1.2M1226.2 325.9V339.1M1225.0 330.9h1.2M1226.2 329.8h1.2M1227.5 301.4V327.0M1226.3 320.9h1.2M1227.5 317.2h1.2M1228.8 314.2V325.4M1227.6 317.9h1.2M1228.8 320.3h1.2M1230.0 288.0V315.2M1228.8 313.3h1.2M1230.0 303.4h1.2M1231.3 267.8V291.1M1230.1 289.1h1.2M1231.3 281.0h1.2M1232.6 237.8V270.1M1231.4 269.8h1.2M1232.6 238.8h1.2M1233.9 252.6V273.3M1232.7 262.1h1.2M1233.9 264.0h1.2M1235.1 226.2V254.9M1233.9 247.1h1.2M1235.1 254.0h1.2M1236.4 227.6V239.4M1235.2 235.0h1.2M1236.4 233.3h1.2M1237.7 229.9V233.5M1236.5 232.2h1.2M1237.7 231.8h1.2M1239.0 214.4V241.2M1237.8 233.3h1.2M1239.0 239.8h1.2M1240.3 221.9V243.5M1239.1 222.2h1.2M1240.3 228.8h1.2M1241.5 231.3V252.4M1240.3 249.8h1.2M1241.5 232.6h1.2M1242.8 236.5V264.6M1241.6 258.7h1.2M1242.8 237.4h1.2M1244.1 244.9V267.4M1242.9 259.5h1.2M1244.1 262.9h1.2M1245.4 262.5V266.2M1244.2 263.4h1.2M1245.4 263.9h1.2M1246.6 265.0V290.3M1245.4 270.7h1.2M1246.6 282.8h1.2M1247.9 262.7V296.2M1246.7 280.4h1.2M1247.9 283.0h1.2M1249.2 242.7V280.8M1248.0 255.1h1.2M1249.2 265.1h1.2M1250.5 247.2V268.4M1249.3 267.5h1.2M1250.5 263.8h1.2M1251.8 258.5V277.5M1250.6 276.6h1.2M1251.8 263.2h1.2M1253.0 264.8V303.0M1251.8 284.5h1.2M1253.0 279.5h1.2M1254.3 251.7V267.2M1253.1 257.1h1.2M1254.3 264.2h1.2M1255.6 258.7V280.8M1254.4 262.6h1.2M1255.6 271.1h1.2M1256.9 222.0V260.3M1255.7 251.6h1.2M1256.9 257.8h1.2M1258.2 239.0V256.8M1257.0 239.3h1.2M1258.2 243.8h1.2M1259.4 244.0V262.4M1258.2 253.1h1.2M1259.4 261.2h1.2M1260.7 246.7V256.2M1259.5 248.2h1.2M1260.7 254.7h1.2M1262.0 244.4V260.1M1260.8 250.6h1.2M1262.0 253.0h1.2M1263.3 243.9V271.4M1262.1 269.4h1.2M1263.3 245.7h1.2M1264.5 242.7V278.8M1263.3 254.6h1.2M1264.5 248.3h1.2M1265.8 260.2V274.1M1264.6 262.1h1.2M1265.8 264.4h1.2M1267.1 263.7V292.0M1265.9 283.5h1.2M1267.1 280.1h1.2M1268.4 260.1V282.6M1267.2 262.9h1.2M1268.4 278.1h1.2M1269.7 264.6V290.7M1268.5 277.8h1.2M1269.7 268.3h1.2M1270.9 246.5V273.1M1269.7 268.4h1.2M1270.9 268.4h1.2M1272.2 244.9V252.7M1271.0 246.6h1.2M1272.2 252.2h1.2M1273.5 242.7V256.0M1272.3 253.5h1.2M1273.5 245.7h1.2M1274.8 253.9V274.0M1273.6 253.9h1.2M1274.8 271.4h1.2M1276.0 253.6V289.3M1274.8 283.1h1.2M1276.0 257.1h1.2M1277.3 244.1V261.3M1276.1 257.3h1.2M1277.3 257.4h1.2M1278.6 228.8V245.3M1277.4 239.3h1.2M1278.6 242.6h1.2M1279.9 200.0V242.2M1278.7 241.5h1.2M1279.9 213.8h1.2M1281.2 206.2V226.3M1280.0 223.0h1.2M1281.2 224.7h1.2M1282.4 203.4V222.9M1281.2 209.5h1.2M1282.4 216.7h1.2M1283.7 203.5V213.7M1282.5 210.4h1.2M1283.7 212.1h1.2M1285.0 179.6V217.5M1283.8 201.1h1.2M1285.0 190.0h1.2M1286.3 182.5V187.7M1285.1 183.8h1.2M1286.3 185.3h1.2M1287.5 180.7V185.7M1286.3 181.4h1.2M1287.5 185.0h1.2M1288.8 175.0V198.1M1287.6 195.6h1.2M1288.8 180.6h1.2M1290.1 181.0V201.4M1288.9 195.2h1.2M1290.1 194.7h1.2M1291.4 199.5V217.5M1290.2 201.7h1.2M1291.4 213.5h1.2M1292.7 205.4V228.7M1291.5 223.3h1.2M1292.7 212.6h1.2M1293.9 205.2V240.0M1292.7 208.6h1.2M1293.9 215.0h1.2M1295.2 222.1V234.2M1294.0 231.4h1.2M1295.2 227.8h1.2M1296.5 201.5V238.7M1295.3 231.8h1.2M1296.5 207.4h1.2M1297.8 221.3V241.9M1296.6 223.5h1.2M1297.8 228.5h1.2M1299.0 239.7V265.6M1297.8 262.5h1.2M1299.0 243.9h1.2M1300.3 251.6V275.8M1299.1 253.4h1.2M1300.3 269.8h1.2M1301.6 257.8V279.7M1300.4 259.8h1.2M1301.6 272.4h1.2M1302.9 260.3V276.3M1301.7 261.7h1.2M1302.9 264.3h1.2M1304.2 274.9V301.7M1303.0 292.7h1.2M1304.2 298.3h1.2M1305.4 270.5V292.6M1304.2 279.6h1.2M1305.4 280.5h1.2M1306.7 266.8V290.8M1305.5 267.6h1.2M1306.7 275.0h1.2M1308.0 259.0V285.0M1306.8 265.3h1.2M1308.0 279.5h1.2M1309.3 263.1V276.6M1308.1 272.8h1.2M1309.3 273.7h1.2M1310.5 271.2V294.8M1309.3 283.7h1.2M1310.5 287.7h1.2M1311.8 267.2V281.4M1310.6 269.0h1.2M1311.8 272.6h1.2M1313.1 262.0V279.2M1311.9 267.0h1.2M1313.1 266.9h1.2M1314.4 273.7V284.0M1313.2 281.4h1.2M1314.4 275.9h1.2M1315.7 273.8V291.9M1314.5 279.7h1.2M1315.7 279.0h1.2M1316.9 267.2V298.4M1315.7 294.2h1.2M1316.9 287.1h1.2M1318.2 274.0V291.0M1317.0 282.2h1.2M1318.2 280.5h1.2M1319.5 268.6V294.8M1318.3 292.7h1.2M1319.5 293.2h1.2M1320.8 265.0V277.2M1319.6 270.5h1.2M1320.8 271.9h1.2M1322.1 248.0V266.5M1320.9 264.0h1.2M1322.1 252.8h1.2M1323.3 249.7V267.4M1322.1 254.2h1.2M1323.3 251.5h1.2M1324.6 251.0V263.7M1323.4 257.4h1.2M1324.6 260.8h1.2M1325.9 237.4V252.8M1324.7 239.8h1.2M1325.9 244.1h1.2M1327.2 244.1V258.7M1326.0 258.6h1.2M1327.2 251.1h1.2M1328.4 233.6V245.4M1327.2 238.1h1.2M1328.4 243.5h1.2M1329.7 236.5V252.3M1328.5 250.6h1.2M1329.7 242.4h1.2M1331.0 237.4V260.5M1329.8 240.2h1.2M1331.0 252.1h1.2M1332.3 236.8V254.6M1331.1 250.0h1.2M1332.3 253.2h1.2M1333.6 218.3V241.5M1332.4 233.6h1.2M1333.6 225.4h1.2M1334.8 203.1V221.4M1333.6 212.6h1.2M1334.8 208.4h1.2M1336.1 201.5V231.5M1334.9 214.9h1.2M1336.1 215.5h1.2M1337.4 203.0V213.8M1336.2 212.9h1.2M1337.4 212.8h1.2M1338.7 202.6V214.4M1337.5 213.5h1.2M1338.7 208.2h1.2M1339.9 205.9V218.1M1338.7 217.7h1.2M1339.9 207.6h1.2M1341.2 192.6V213.0M1340.0 211.4h1.2M1341.2 205.7h1.2M1342.5 192.8V217.5M1341.3 214.4h1.2M1342.5 203.0h1.2M1343.8 184.8V219.4M1342.6 219.1h1.2M1343.8 185.7h1.2M1345.1 204.8V222.7M1343.9 220.0h1.2M1345.1 219.5h1.2M1346.3 203.0V222.5M1345.1 210.3h1.2M1346.3 219.1h1.2M1347.6 217.3V238.6M1346.4 221.8h1.2M1347.6 233.3h1.2M1348.9 220.2V237.5M1347.7 228.3h1.2M1348.9 227.3h1.2M1350.2 231.2V253.4M1349.0 235.6h1.2M1350.2 249.0h1.2M1351.4 217.7V232.4M1350.2 228.4h1.2M1351.4 219.0h1.2M1352.7 212.1V230.6M1351.5 230.2h1.2M1352.7 216.2h1.2M1354.0 197.3V214.5M1352.8 203.8h1.2M1354.0 204.4h1.2M1355.3 205.8V228.1M1354.1 218.6h1.2M1355.3 225.6h1.2M1356.6 202.9V214.4M1355.4 213.8h1.2M1356.6 210.2h1.2M1357.8 200.2V219.1M1356.6 207.1h1.2M1357.8 202.2h1.2M1359.1 194.8V217.7M1357.9 196.4h1.2M1359.1 206.7h1.2M1360.4 198.1V222.4M1359.2 212.3h1.2M1360.4 208.9h1.2M1361.7 203.1V215.8M1360.5 215.6h1.2M1361.7 208.3h1.2M1362.9 196.1V204.4M1361.7 199.0h1.2M1362.9 199.6h1.2M1364.2 159.9V198.3M1363.0 166.5h1.2M1364.2 196.0h1.2M1365.5 163.1V190.0M1364.3 179.0h1.2M1365.5 177.7h1.2M1366.8 181.1V208.5M1365.6 192.7h1.2M1366.8 187.9h1.2M1368.1 167.5V182.5M1366.9 172.2h1.2M1368.1 174.9h1.2M1369.3 170.7V188.7M1368.1 178.7h1.2M1369.3 188.3h1.2M1370.6 163.6V185.1M1369.4 175.7h1.2M1370.6 168.0h1.2M1371.9 166.7V185.7M1370.7 167.7h1.2M1371.9 169.7h1.2M1373.2 165.2V190.5M1372.0 173.9h1.2M1373.2 185.0h1.2M1374.5 167.0V174.4M1373.2 173.6h1.2M1374.5 168.8h1.2M1375.7 160.9V181.6M1374.5 177.0h1.2M1375.7 170.0h1.2M1377.0 159.4V175.6M1375.8 168.1h1.2M1377.0 168.0h1.2M1378.3 171.1V189.7M1377.1 171.9h1.2M1378.3 172.3h1.2M1379.6 173.2V178.7M1378.4 176.8h1.2M1379.6 176.9h1.2M1380.8 172.7V191.7M1379.6 179.9h1.2M1380.8 190.1h1.2M1382.1 169.8V196.6M1380.9 191.8h1.2M1382.1 177.9h1.2M1383.4 186.4V205.2M1382.2 187.7h1.2M1383.4 196.8h1.2M1384.7 203.7V226.3M1383.5 218.5h1.2M1384.7 208.7h1.2M1386.0 214.1V234.9M1384.8 215.0h1.2M1386.0 224.2h1.2M1387.2 211.6V245.9M1386.0 212.8h1.2M1387.2 236.9h1.2M1388.5 213.8V233.6M1387.3 226.2h1.2M1388.5 219.3h1.2M1389.8 199.8V228.9M1388.6 212.8h1.2M1389.8 206.6h1.2M1391.1 212.1V233.9M1389.9 216.1h1.2M1391.1 216.0h1.2M1392.3 214.4V243.4M1391.1 238.1h1.2M1392.3 227.6h1.2M1393.6 207.7V242.2M1392.4 232.4h1.2M1393.6 219.7h1.2M1394.9 200.5V227.4M1393.7 222.2h1.2M1394.9 216.5h1.2M1396.2 198.5V225.8M1395.0 216.4h1.2M1396.2 209.2h1.2M1397.5 207.5V229.7M1396.3 220.0h1.2M1397.5 211.7h1.2M1398.7 202.2V220.5M1397.5 220.0h1.2M1398.7 214.5h1.2M1400.0 218.4V229.5M1398.8 224.3h1.2M1400.0 225.5h1.2M1401.3 207.2V228.7M1400.1 209.4h1.2M1401.3 214.4h1.2M1402.6 219.0V237.2M1401.4 223.2h1.2M1402.6 234.3h1.2M1403.8 207.2V226.1M1402.6 207.5h1.2M1403.8 215.7h1.2M1405.1 203.5V218.2M1403.9 216.3h1.2M1405.1 215.0h1.2M1406.4 212.6V232.6M1405.2 226.9h1.2M1406.4 218.6h1.2M1407.7 227.2V244.9M1406.5 231.3h1.2M1407.7 239.7h1.2M1409.0 222.4V245.9M1407.8 229.4h1.2M1409.0 239.4h1.2M1410.2 229.1V242.3M1409.0 233.8h1.2M1410.2 239.2h1.2M1411.5 226.3V256.6M1410.3 243.7h1.2M1411.5 251.0h1.2M1412.8 218.8V235.9M1411.6 235.7h1.2M1412.8 225.3h1.2M1414.1 216.8V232.7M1412.9 232.5h1.2M1414.1 217.0h1.2M1415.3 206.3V224.5M1414.1 222.2h1.2M1415.3 206.8h1.2M1416.6 205.5V228.6M1415.4 218.1h1.2M1416.6 214.5h1.2M1417.9 196.3V222.1M1416.7 216.2h1.2M1417.9 204.4h1.2M1419.2 192.3V204.0M1418.0 194.7h1.2M1419.2 201.5h1.2M1420.5 187.3V208.0M1419.3 198.7h1.2M1420.5 202.9h1.2M1421.7 198.5V215.1M1420.5 206.6h1.2M1421.7 199.1h1.2M1423.0 203.1V221.1M1421.8 217.0h1.2M1423.0 207.0h1.2M1424.3 210.9V222.9M1423.1 216.5h1.2M1424.3 210.9h1.2M1425.6 219.2V241.4M1424.4 224.9h1.2M1425.6 234.0h1.2M1426.8 201.3V223.4M1425.6 218.2h1.2M1426.8 215.4h1.2M1428.1 194.8V225.8M1426.9 208.6h1.2M1428.1 217.5h1.2M1429.4 206.5V226.5M1428.2 219.9h1.2M1429.4 210.6h1.2M1430.7 224.3V266.6M1429.5 246.9h1.2M1430.7 249.6h1.2M1432.0 235.3V251.8M1430.8 247.3h1.2M1432.0 238.6h1.2M1433.2 225.2V259.6M1432.0 235.9h1.2M1433.2 237.0h1.2M1434.5 219.3V243.9M1433.3 221.7h1.2M1434.5 227.9h1.2M1435.8 212.2V229.3M1434.6 224.7h1.2M1435.8 222.1h1.2M1437.1 214.9V230.0M1435.9 217.5h1.2M1437.1 226.0h1.2M1438.3 220.8V244.5M1437.1 223.5h1.2M1438.3 238.6h1.2M1439.6 212.2V239.7M1438.4 216.3h1.2M1439.6 214.9h1.2M1440.9 216.3V237.4M1439.7 221.6h1.2M1440.9 227.1h1.2M1442.2 236.0V254.7M1441.0 241.1h1.2M1442.2 252.5h1.2M1443.5 242.6V261.5M1442.3 260.3h1.2M1443.5 247.9h1.2M1444.7 247.1V279.6M1443.5 271.5h1.2M1444.7 269.7h1.2M1446.0 249.7V261.6M1444.8 256.4h1.2M1446.0 252.7h1.2M1447.3 232.1V274.6M1446.1 272.5h1.2M1447.3 272.8h1.2M1448.6 251.9V270.1M1447.4 252.1h1.2M1448.6 257.9h1.2M1449.9 230.4V254.8M1448.7 238.2h1.2M1449.9 235.2h1.2M1451.1 217.4V234.7M1449.9 224.9h1.2M1451.1 233.0h1.2M1452.4 225.2V243.4M1451.2 225.6h1.2M1452.4 240.4h1.2M1453.7 199.8V226.4M1452.5 208.0h1.2M1453.7 200.2h1.2M1455.0 203.3V219.4M1453.8 217.7h1.2M1455.0 207.6h1.2M1456.2 202.3V210.6M1455.0 204.1h1.2M1456.2 203.3h1.2M1457.5 183.5V212.8M1456.3 194.2h1.2M1457.5 187.0h1.2M1458.8 186.4V202.1M1457.6 189.2h1.2M1458.8 190.3h1.2M1460.1 185.5V214.0M1458.9 202.0h1.2M1460.1 198.2h1.2M1461.4 186.3V196.3M1460.2 189.3h1.2M1461.4 191.5h1.2M1462.6 175.0V207.0M1461.4 199.8h1.2M1462.6 198.2h1.2M1463.9 171.0V198.3M1462.7 180.4h1.2M1463.9 196.0h1.2M1465.2 172.2V184.6M1464.0 182.0h1.2M1465.2 179.2h1.2M1466.5 157.7V184.8M1465.3 170.6h1.2M1466.5 166.6h1.2M1467.7 173.6V184.5M1466.5 175.1h1.2M1467.7 183.3h1.2M1469.0 159.6V187.0M1467.8 176.3h1.2M1469.0 162.3h1.2M1470.3 167.6V182.6M1469.1 181.5h1.2M1470.3 180.9h1.2M1471.6 151.0V171.2M1470.4 151.7h1.2M1471.6 165.1h1.2M1472.9 152.0V166.0M1471.7 155.4h1.2M1472.9 159.5h1.2M1474.1 151.4V167.5M1472.9 164.8h1.2M1474.1 157.0h1.2M1475.4 127.5V153.5M1474.2 140.5h1.2M1475.4 144.8h1.2M1476.7 126.3V138.6M1475.5 128.7h1.2M1476.7 134.0h1.2M1478.0 115.0V136.2M1476.8 124.0h1.2M1478.0 135.8h1.2M1479.2 117.5V138.7M1478.0 121.4h1.2M1479.2 132.5h1.2M1480.5 118.2V139.7M1479.3 119.1h1.2M1480.5 124.1h1.2M1481.8 88.0V121.6M1480.6 92.0h1.2M1481.8 93.0h1.2M1483.1 101.3V122.6M1481.9 112.6h1.2M1483.1 105.0h1.2M1484.4 99.9V124.0M1483.2 119.1h1.2M1484.4 102.3h1.2M1485.6 87.0V101.3M1484.4 95.9h1.2M1485.6 99.3h1.2M1486.9 70.2V88.7M1485.7 72.5h1.2M1486.9 74.2h1.2M1488.2 73.2V92.6M1487.0 88.0h1.2M1488.2 82.3h1.2M1489.5 71.8V90.0M1488.3 88.7h1.2M1489.5 78.0h1.2M1490.7 68.0V88.1M1489.5 76.0h1.2M1490.7 87.2h1.2M1492.0 72.4V90.5M1490.8 78.7h1.2M1492.0 89.9h1.2M1493.3 78.2V86.3M1492.1 85.4h1.2M1493.3 79.9h1.2M1494.6 84.7V108.3M1493.4 97.6h1.2M1494.6 106.9h1.2M1495.9 83.8V105.1M1494.7 86.3h1.2M1495.9 101.9h1.2M1497.1 74.7V170.0M1495.9 148.5h1.2M1497.1 146.1h1.2M1498.4 137.7V148.9M1497.2 144.4h1.2M1498.4 138.8h1.2M1499.7 126.3V149.1M1498.5 148.1h1.2M1499.7 128.6h1.2M1501.0 129.8V151.0M1499.8 146.4h1.2M1501.0 145.1h1.2M1502.2 127.6V142.5M1501.0 132.3h1.2M1502.2 137.8h1.2M1503.5 125.0V139.4M1502.3 130.9h1.2M1503.5 135.8h1.2M1504.8 135.0V147.7M1503.6 135.5h1.2M1504.8 146.9h1.2M1506.1 131.8V155.5M1504.9 140.9h1.2M1506.1 150.8h1.2M1507.4 129.5V147.6M1506.2 138.0h1.2M1507.4 144.2h1.2M1508.6 128.5V152.7M1507.4 135.8h1.2M1508.6 141.7h1.2M1509.9 137.4V151.6M1508.7 137.7h1.2M1509.9 144.3h1.2M1511.2 133.2V156.5M1510.0 135.1h1.2M1511.2 153.2h1.2M1512.5 134.1V157.7M1511.3 150.1h1.2M1512.5 144.1h1.2M1513.8 142.5V156.4M1512.6 156.0h1.2M1513.8 155.6h1.2M1515.0 142.3V175.6M1513.8 174.2h1.2M1515.0 145.0h1.2M1516.3 143.3V154.6M1515.1 151.3h1.2M1516.3 151.5h1.2M1517.6 139.7V153.4M1516.4 148.0h1.2M1517.6 139.9h1.2M1518.9 141.2V169.4M1517.7 167.3h1.2M1518.9 153.6h1.2M1520.1 142.1V188.1M1518.9 169.4h1.2M1520.1 179.5h1.2M1521.4 175.6V250.0M1520.2 196.1h1.2M1521.4 177.8h1.2M1522.7 227.3V247.8M1521.5 246.2h1.2M1522.7 232.9h1.2M1524.0 224.5V360.6M1522.8 230.1h1.2M1524.0 243.1h1.2M1525.3 300.0V374.2M1524.1 373.8h1.2M1525.3 354.9h1.2M1526.5 302.9V332.9M1525.3 309.2h1.2M1526.5 307.3h1.2M1527.8 277.0V337.0M1526.6 330.9h1.2M1527.8 316.9h1.2M1529.1 270.0V311.0M1527.9 293.9h1.2M1529.1 275.4h1.2M1530.4 231.0V271.6M1529.2 247.8h1.2M1530.4 269.4h1.2M1531.6 240.1V267.9M1530.4 240.2h1.2M1531.6 251.8h1.2M1532.9 229.7V269.0M1531.7 231.9h1.2M1532.9 268.9h1.2M1534.2 234.2V267.0M1533.0 237.6h1.2M1534.2 265.4h1.2M1535.5 232.4V280.8M1534.3 273.1h1.2M1535.5 267.8h1.2M1536.8 238.6V265.6M1535.6 239.7h1.2M1536.8 257.4h1.2M1538.0 227.0V256.7M1536.8 241.7h1.2M1538.0 241.6h1.2M1539.3 236.1V254.2M1538.1 238.8h1.2M1539.3 245.4h1.2M1540.6 219.0V271.6M1539.4 261.2h1.2M1540.6 225.9h1.2M1541.9 238.0V248.8M1540.7 247.5h1.2M1541.9 242.6h1.2M1543.1 235.0V268.4M1541.9 243.9h1.2M1543.1 243.0h1.2M1544.4 245.9V270.5M1543.2 257.2h1.2M1544.4 261.8h1.2M1545.7 242.0V284.7M1544.5 266.3h1.2M1545.7 280.0h1.2M1547.0 271.3V281.9M1545.8 276.7h1.2M1547.0 276.7h1.2M1548.3 272.6V292.6M1547.1 292.4h1.2M1548.3 276.9h1.2M1549.5 269.0V326.7M1548.3 270.0h1.2M1549.5 288.0h1.2M1550.8 304.2V313.9M1549.6 307.2h1.2M1550.8 305.4h1.2M1552.1 308.7V333.0M1550.9 318.9h1.2M1552.1 309.5h1.2M1553.4 300.4V331.5M1552.2 329.0h1.2M1553.4 315.4h1.2M1554.6 308.3V323.1M1553.4 321.3h1.2M1554.6 318.6h1.2M1555.9 302.7V329.6M1554.7 322.4h1.2M1555.9 323.1h1.2M1557.2 296.5V315.4M1556.0 302.2h1.2M1557.2 310.3h1.2M1558.5 295.2V315.4M1557.3 299.4h1.2M1558.5 306.4h1.2M1559.8 313.9V337.6M1558.6 328.0h1.2M1559.8 332.3h1.2M1561.0 298.8V333.0M1559.8 304.6h1.2M1561.0 310.6h1.2M1562.3 321.0V333.0M1561.1 330.9h1.2M1562.3 330.7h1.2M1563.6 322.9V331.2M1562.4 331.1h1.2M1563.6 323.9h1.2" fill="none" stroke="#000" stroke-width="1" shape-rendering="crispEdges"/>
<!-- green lines -->
<g stroke="#148a14" stroke-width="4" fill="none">
<line x1="178" y1="660.4" x2="1781.2" y2="410.6"/>
<line x1="868.1" y1="382.6" x2="1526.4" y2="36.9"/>
<line x1="860.7" y1="487.4" x2="1624.4" y2="217.7"/>
</g>
<g stroke="#1b6fd6" stroke-width="1" fill="none"><path d="M171 662.5h4l3-1.5M849.5 491.5l11-4M1625.2 218.6L1627.2 217.6H1628.8L1630 216.4"/></g>
<!-- ellipses -->
<g fill="#000" fill-opacity="0.37">
<ellipse cx="686" cy="279" rx="45.4" ry="16.4"/>
<ellipse cx="1069.5" cy="284" rx="25.5" ry="12"/>
<ellipse cx="1260.7" cy="279" rx="25" ry="16"/>
<ellipse cx="1312.2" cy="280.5" rx="20.5" ry="15.5"/>
<ellipse cx="1447.7" cy="275.5" rx="21.7" ry="12.3"/>
</g>
<!-- magenta arrow + pink line -->
<path d="M1531 161.5H1552V173.5H1561.5L1542 203L1522.5 173.5H1531Z" fill="#ff14ff"/>
<line x1="1487" y1="44" x2="1531.5" y2="192" stroke="#ff00ff" stroke-opacity="0.42" stroke-width="4.5"/>
<!-- circle -->
<circle cx="1542" cy="256.8" r="67.2" fill="#ff0000" fill-opacity="0.37"/>
<!-- purple arc -->
<path d="M1504.4 223C1509 216.5 1516 210.5 1527.3 207.3C1535 205.6 1546 205.4 1552.3 206.3C1556 207 1559 208.5 1561 210.5" fill="none" stroke="#5a10b4" stroke-width="7.6" stroke-linecap="round"/>
<path d="M1555.5 210.5C1558 208.5 1567 207.5 1571 210.6C1573 214 1573.4 226 1572.2 232.8C1571 235.5 1568.5 236 1567.2 235.3C1565 233.5 1563.5 231 1562.2 228.5C1560.5 225 1560 222.5 1558.5 219.8C1557 217 1555 214 1555.5 210.5Z" fill="#5a10b4"/>
<line x1="1478.2" y1="30.5" x2="1591.3" y2="382" stroke="#ff0000" stroke-width="4.2"/>
<!-- annotations -->
<g class="sans" fill="#000">
<text x="1538.7" y="147.8" font-size="16" font-weight="700" textLength="251" lengthAdjust="spacing">cambió de polaridad la EMA200?</text>
<text x="1564.4" y="267.6" font-size="16.4" textLength="179.7" lengthAdjust="spacing" stroke="#000" stroke-width="0.3">FALLÓ LA POLARIDAD</text>
<text x="1119.7" y="437.8" font-size="16" font-weight="700" textLength="349" lengthAdjust="spacing">durante mucho tiempo la EMA 200 SEMANAL</text>
<text x="1119.7" y="457.5" font-size="16" font-weight="700" textLength="323" lengthAdjust="spacing">ha ejercido de soporte dinámico del valor</text>
<text x="1227.3" y="687.6" font-size="16.4" textLength="284.5" lengthAdjust="spacing" stroke="#000" stroke-width="0.3">WWW.INVERTIRYESPECULAR.COM</text>
</g>
<!-- sin ordenes -->
<rect x="0" y="744.2" width="49.9" height="17.5" fill="#3f8fe6"/>
<text class="sans" x="-1.4" y="756.9" font-size="11" fill="#0c1430">n órdenes</text>
</g>
<!-- right axis -->
<rect x="1804" y="19.3" width="65" height="765" fill="#f3f4f6"/>
<rect x="1804" y="19.3" width="65" height="1.2" fill="#505050"/>
<rect x="1803.8" y="19.3" width="1.4" height="765" fill="#404040"/>
<g stroke="#404040" stroke-width="1" shape-rendering="crispEdges">
<line x1="1805" y1="769.5" x2="1811" y2="769.5"/><line x1="1805" y1="757.5" x2="1808.5" y2="757.5"/><line x1="1805" y1="745.5" x2="1808.5" y2="745.5"/><line x1="1805" y1="732.5" x2="1808.5" y2="732.5"/><line x1="1805" y1="720.5" x2="1811" y2="720.5"/><line x1="1805" y1="708.5" x2="1808.5" y2="708.5"/><line x1="1805" y1="695.5" x2="1808.5" y2="695.5"/><line x1="1805" y1="683.5" x2="1808.5" y2="683.5"/><line x1="1805" y1="671.5" x2="1811" y2="671.5"/><line x1="1805" y1="659.5" x2="1808.5" y2="659.5"/><line x1="1805" y1="646.5" x2="1808.5" y2="646.5"/><line x1="1805" y1="634.5" x2="1808.5" y2="634.5"/><line x1="1805" y1="622.5" x2="1811" y2="622.5"/><line x1="1805" y1="609.5" x2="1808.5" y2="609.5"/><line x1="1805" y1="597.5" x2="1808.5" y2="597.5"/><line x1="1805" y1="585.5" x2="1808.5" y2="585.5"/><line x1="1805" y1="573.5" x2="1811" y2="573.5"/><line x1="1805" y1="523.5" x2="1811" y2="523.5"/><line x1="1805" y1="511.5" x2="1808.5" y2="511.5"/><line x1="1805" y1="499.5" x2="1808.5" y2="499.5"/><line x1="1805" y1="487.5" x2="1808.5" y2="487.5"/><line x1="1805" y1="474.5" x2="1811" y2="474.5"/><line x1="1805" y1="462.5" x2="1808.5" y2="462.5"/><line x1="1805" y1="450.5" x2="1808.5" y2="450.5"/><line x1="1805" y1="438.5" x2="1808.5" y2="438.5"/><line x1="1805" y1="425.5" x2="1811" y2="425.5"/><line x1="1805" y1="413.5" x2="1808.5" y2="413.5"/><line x1="1805" y1="401.5" x2="1808.5" y2="401.5"/><line x1="1805" y1="388.5" x2="1808.5" y2="388.5"/><line x1="1805" y1="376.5" x2="1811" y2="376.5"/><line x1="1805" y1="364.5" x2="1808.5" y2="364.5"/><line x1="1805" y1="352.5" x2="1808.5" y2="352.5"/><line x1="1805" y1="339.5" x2="1808.5" y2="339.5"/><line x1="1805" y1="327.5" x2="1811" y2="327.5"/><line x1="1805" y1="315.5" x2="1808.5" y2="315.5"/><line x1="1805" y1="302.5" x2="1808.5" y2="302.5"/><line x1="1805" y1="290.5" x2="1808.5" y2="290.5"/><line x1="1805" y1="278.5" x2="1811" y2="278.5"/><line x1="1805" y1="266.5" x2="1808.5" y2="266.5"/><line x1="1805" y1="253.5" x2="1808.5" y2="253.5"/><line x1="1805" y1="241.5" x2="1808.5" y2="241.5"/><line x1="1805" y1="229.5" x2="1811" y2="229.5"/><line x1="1805" y1="216.5" x2="1808.5" y2="216.5"/><line x1="1805" y1="204.5" x2="1808.5" y2="204.5"/><line x1="1805" y1="192.5" x2="1808.5" y2="192.5"/><line x1="1805" y1="180.5" x2="1811" y2="180.5"/><line x1="1805" y1="167.5" x2="1808.5" y2="167.5"/><line x1="1805" y1="155.5" x2="1808.5" y2="155.5"/><line x1="1805" y1="143.5" x2="1808.5" y2="143.5"/><line x1="1805" y1="131.5" x2="1811" y2="131.5"/><line x1="1805" y1="118.5" x2="1808.5" y2="118.5"/><line x1="1805" y1="106.5" x2="1808.5" y2="106.5"/><line x1="1805" y1="94.5" x2="1808.5" y2="94.5"/><line x1="1805" y1="81.5" x2="1811" y2="81.5"/><line x1="1805" y1="69.5" x2="1808.5" y2="69.5"/><line x1="1805" y1="57.5" x2="1808.5" y2="57.5"/><line x1="1805" y1="45.5" x2="1808.5" y2="45.5"/><line x1="1805" y1="32.5" x2="1811" y2="32.5"/><line x1="1805" y1="563.5" x2="1808.5" y2="563.5"/><line x1="1805" y1="553.5" x2="1808.5" y2="553.5"/><line x1="1805" y1="543.5" x2="1808.5" y2="543.5"/><line x1="1805" y1="533.5" x2="1808.5" y2="533.5"/>
</g>
<g class="sans" font-size="14" fill="#1c1c28">
<text x="1815" y="37.4">85</text><text x="1815" y="86.5">80</text><text x="1815" y="135.6">75</text><text x="1815" y="184.7">70</text><text x="1815" y="283.0">60</text><text x="1815" y="381.2">50</text><text x="1815" y="430.3">45</text><text x="1815" y="479.5">40</text><text x="1815" y="528.6">35</text><text x="1815" y="577.7">30</text><text x="1815" y="626.8">25</text><text x="1815" y="675.9">20</text><text x="1815" y="725.1">15</text><text x="1815" y="774.2">10</text>
</g>
<rect x="1814" y="215.9" width="41.9" height="21" fill="#3f8fe6"/>
<rect x="1814" y="321" width="34" height="21" fill="#3f8fe6"/>
<g class="sans" font-size="14" fill="#b6bfcf">
<text x="1816.6" y="232.9">65,28</text>
<text x="1816.6" y="338">54,6</text>
</g>
<g stroke="#404040" stroke-width="1" fill="none">
<path d="M1806 226.5H1813M1809 223.5L1806 226.5L1809 229.5"/>
<path d="M1806 331.5H1813M1809 328.5L1806 331.5L1809 334.5"/>
</g>
<rect x="1867.5" y="23" width="1.5" height="21" fill="#8a8a8a"/>
<!-- bottom axis -->
<rect x="0" y="784" width="1869" height="18" fill="#f0f0f0"/>
<rect x="0" y="783.7" width="1869" height="1.2" fill="#404040"/>
<g stroke="#404040" stroke-width="1" shape-rendering="crispEdges">
<line x1="49.5" y1="784" x2="49.5" y2="794"/><line x1="115.5" y1="784" x2="115.5" y2="794"/><line x1="182.5" y1="784" x2="182.5" y2="794"/><line x1="182.5" y1="775" x2="182.5" y2="784"/><line x1="249.5" y1="784" x2="249.5" y2="794"/><line x1="315.5" y1="784" x2="315.5" y2="794"/><line x1="381.5" y1="784" x2="381.5" y2="794"/><line x1="447.5" y1="784" x2="447.5" y2="794"/><line x1="515.5" y1="784" x2="515.5" y2="794"/><line x1="581.5" y1="784" x2="581.5" y2="794"/><line x1="647.5" y1="784" x2="647.5" y2="794"/><line x1="713.5" y1="784" x2="713.5" y2="794"/><line x1="780.5" y1="784" x2="780.5" y2="794"/><line x1="846.5" y1="784" x2="846.5" y2="794"/><line x1="846.5" y1="775" x2="846.5" y2="784"/><line x1="913.5" y1="784" x2="913.5" y2="794"/><line x1="980.5" y1="784" x2="980.5" y2="794"/><line x1="1046.5" y1="784" x2="1046.5" y2="794"/><line x1="1112.5" y1="784" x2="1112.5" y2="794"/><line x1="1178.5" y1="784" x2="1178.5" y2="794"/><line x1="1244.5" y1="784" x2="1244.5" y2="794"/><line x1="1312.5" y1="784" x2="1312.5" y2="794"/><line x1="1378.5" y1="784" x2="1378.5" y2="794"/><line x1="1444.5" y1="784" x2="1444.5" y2="794"/><line x1="1511.5" y1="784" x2="1511.5" y2="794"/><line x1="1511.5" y1="775" x2="1511.5" y2="784"/><line x1="1577.5" y1="784" x2="1577.5" y2="794"/><line x1="1644.5" y1="784" x2="1644.5" y2="794"/><line x1="1710.5" y1="784" x2="1710.5" y2="794"/><line x1="1777.5" y1="784" x2="1777.5" y2="794"/>
</g>
<g class="sans" font-size="11" fill="#1c1c28">
<text x="51.2" y="800.6">1998</text><text x="117.2" y="800.6">1999</text><text x="184.2" y="779.6">2000</text><text x="184.2" y="800.6">2000</text><text x="251.2" y="800.6">2001</text><text x="317.2" y="800.6">2002</text><text x="383.2" y="800.6">2003</text><text x="449.2" y="800.6">2004</text><text x="517.2" y="800.6">2005</text><text x="583.2" y="800.6">2006</text><text x="649.2" y="800.6">2007</text><text x="715.2" y="800.6">2008</text><text x="782.2" y="800.6">2009</text><text x="848.2" y="779.6">2010</text><text x="848.2" y="800.6">2010</text><text x="915.2" y="800.6">2011</text><text x="982.2" y="800.6">2012</text><text x="1048.2" y="800.6">2013</text><text x="1114.2" y="800.6">2014</text><text x="1180.2" y="800.6">2015</text><text x="1246.2" y="800.6">2016</text><text x="1314.2" y="800.6">2017</text><text x="1380.2" y="800.6">2018</text><text x="1446.2" y="800.6">2019</text><text x="1513.2" y="779.6">2020</text><text x="1513.2" y="800.6">2020</text><text x="1579.2" y="800.6">2021</text><text x="1646.2" y="800.6">2022</text><text x="1712.2" y="800.6">2023</text><text x="1779.2" y="800.6" clip-path="url(#c24)">2024</text>
</g>
<!-- bottom right icons -->
<rect x="1810.5" y="786.5" width="17" height="17" fill="#fff" stroke="#bdbdbd"/>
<path d="M1815 792L1817.7 789.6L1821.6 794L1824.6 790.6" fill="none" stroke="#8e8e8e" stroke-width="1.3"/>
<path d="M1815 795.2L1817.7 792.8L1821.6 797.4L1824.6 794" fill="none" stroke="#3d9ad6" stroke-width="1.2"/>
<rect x="1832.5" y="786.5" width="35" height="17" fill="#fff" stroke="#bdbdbd"/>
<path d="M1837 788H1849V800H1837ZM1839.3 788.6V794.4H1846.7V788.6ZM1840 796.3V799.6H1846V796.3Z" fill="#8052c4" fill-rule="evenodd"/>
<rect x="1841" y="797.3" width="1" height="1" fill="#8052c4"/>
<path d="M1856 794.5H1859.5M1859.8 791.5V798M1860 792.3H1863.7V796.6H1860" fill="none" stroke="#303030" stroke-width="1"/>
<rect x="1860" y="795.6" width="4" height="1.4" fill="#303030"/>
<!-- top bar -->
<rect x="0" y="0" width="1869" height="2.6" fill="#fff"/>
<rect x="0" y="0" width="70.6" height="2.8" fill="#d9a273"/>
<rect x="0" y="2.2" width="1869" height="1.8" fill="#a8a8a8"/><rect x="0" y="3.9" width="1869" height="1.2" fill="#6e6e6e"/>
<rect x="0" y="5" width="1869" height="14.4" fill="#d8d8d8"/>
<g class="mono" font-size="12" letter-spacing="0.6" xml:space="preserve">
<text x="6" y="15.8" fill="#000" style="white-space:pre">- DANONE -</text>
<text x="100.6" y="15.8" fill="#000" style="white-space:pre">1 S</text>
<text x="129.6" y="15.8" fill="#000" style="white-space:pre">Dif. %:</text>
<text x="192" y="15.8" fill="#f06464">-0,98</text>
<text x="238.8" y="15.8" fill="#000">Dif.:</text>
<text x="285.6" y="15.8" fill="#f06464">-0,54</text>
<text x="332.4" y="15.8" fill="#000">M:</text>
<text x="355.8" y="15.8" fill="#3a3a3a">55,48</text>
<text x="402.6" y="15.8" fill="#000">m:</text>
<text x="426" y="15.8" fill="#3a3a3a">54,52</text>
<text x="472.8" y="15.8" fill="#000">F:</text>
<text x="496.2" y="15.8" fill="#3a3a3a">07-10-2020</text>
<text x="582" y="15.8" fill="#ff1a1a" style="white-space:pre">P : 79,62</text>
</g>
<rect x="1850" y="8" width="11" height="10.5" fill="#fff"/>
<rect x="1852" y="15.9" width="8" height="1.1" fill="#404040"/>
<rect x="1863" y="8" width="6" height="10.5" fill="#fff"/>
<path d="M1865 10.5H1869M1865 10V16.5H1869" fill="none" stroke="#404040" stroke-width="1.3"/>
</svg>
</body></html>
